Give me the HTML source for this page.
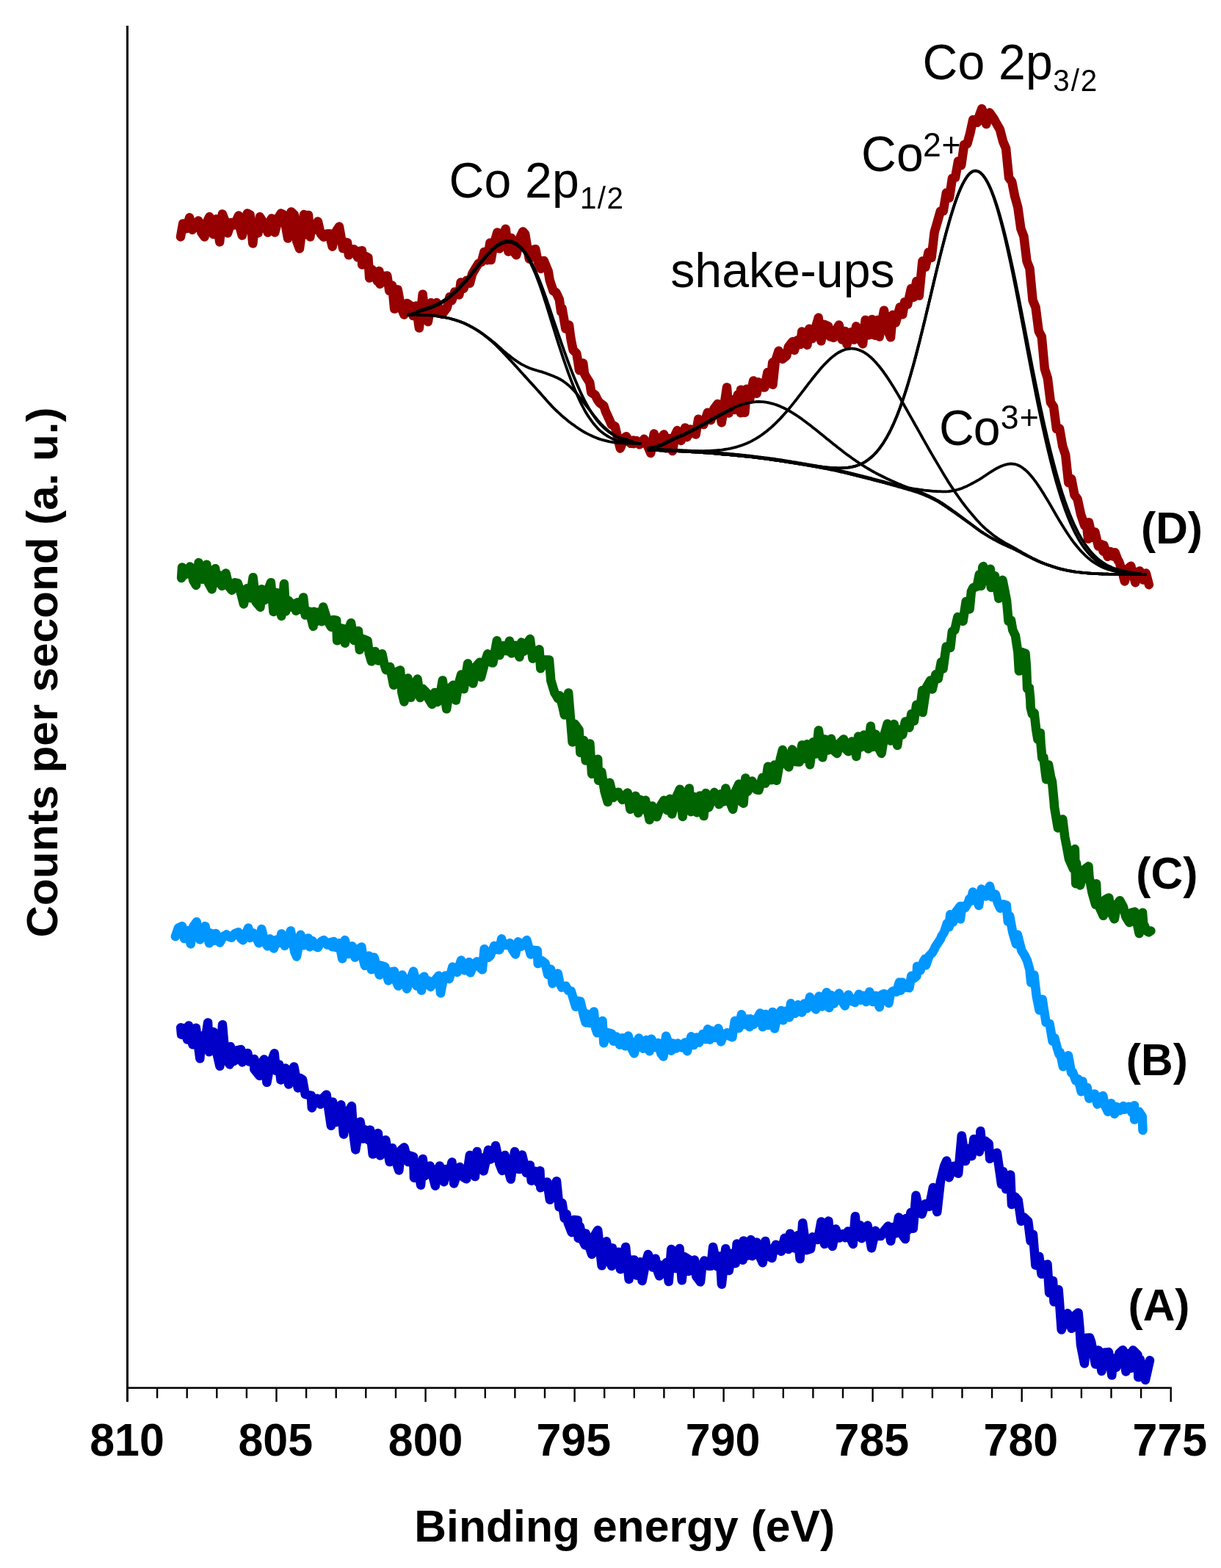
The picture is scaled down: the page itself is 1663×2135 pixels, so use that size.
<!DOCTYPE html>
<html lang="en">
<head>
<meta charset="utf-8">
<title>Co 2p XPS spectra</title>
<style>
html,body{margin:0;padding:0;background:#fff;}
body{width:1663px;height:2135px;overflow:hidden;}
svg{display:block;}
text{font-family:"Liberation Sans",Arial,Helvetica,sans-serif;fill:#000;}
.b{font-weight:bold;}
.r{font-weight:normal;}
.c{fill:none;stroke-linejoin:round;stroke-linecap:round;}
.f{fill:none;stroke:#000;stroke-width:3.8;stroke-linejoin:round;stroke-linecap:butt;}
</style>
</head>
<body>
<svg width="1663" height="2135" viewBox="0 0 1663 2135">
<rect x="0" y="0" width="1663" height="2135" fill="#fff"/>
<polyline class="c" stroke="#0000c8" stroke-width="12.5" points="246.2,1399.2 247.1,1408.8 250.2,1400.0 255.2,1415.5 257.0,1396.5 262.4,1422.3 266.9,1399.7 272.3,1441.3 274.6,1410.6 278.6,1423.1 283.1,1392.5 284.9,1432.3 290.8,1405.1 294.9,1431.9 299.4,1451.6 303.0,1395.2 307.0,1441.4 312.9,1449.4 313.8,1425.0 319.2,1444.7 323.3,1430.2 328.2,1429.1 330.0,1446.4 337.3,1434.0 339.5,1445.6 343.5,1444.7 346.3,1442.1 346.3,1455.8 353.5,1464.8 355.7,1448.0 359.8,1442.5 363.4,1473.8 367.9,1449.3 373.7,1434.3 376.0,1458.0 380.1,1449.4 382.4,1470.5 388.7,1454.4 393.2,1476.5 396.3,1460.9 400.4,1452.4 405.8,1481.4 408.5,1467.8 412.1,1470.1 415.7,1490.0 420.7,1491.3 423.8,1491.7 424.8,1508.4 428.8,1498.8 432.0,1495.7 436.5,1503.6 440.9,1494.2 444.6,1490.4 450.9,1532.8 453.1,1500.5 457.2,1528.1 461.2,1516.5 464.4,1504.3 468.0,1544.5 473.4,1515.3 478.9,1506.1 481.5,1544.8 484.3,1565.4 490.6,1527.4 494.2,1550.5 497.8,1538.5 501.8,1552.3 504.1,1538.6 507.7,1571.6 509.9,1546.2 514.9,1543.1 517.7,1573.4 522.1,1555.7 525.3,1552.3 530.7,1582.1 534.3,1563.2 538.3,1578.6 543.3,1593.5 546.4,1565.7 550.5,1562.2 555.9,1582.1 558.6,1573.6 563.1,1575.2 564.0,1603.8 566.7,1583.3 570.8,1600.5 573.1,1613.7 575.8,1578.0 578.9,1601.0 583.0,1595.2 585.7,1587.4 592.9,1614.6 595.1,1594.4 598.9,1587.4 604.6,1609.2 607.3,1592.1 611.4,1601.2 615.5,1582.4 618.2,1611.5 623.6,1596.1 626.3,1588.9 631.7,1603.2 635.3,1605.2 639.8,1573.0 643.8,1591.3 647.0,1602.0 649.7,1568.1 652.0,1589.5 656.0,1576.3 658.7,1594.4 665.1,1565.8 668.2,1578.4 673.2,1574.9 675.0,1560.0 680.4,1584.9 684.0,1593.9 687.6,1573.0 692.5,1593.9 695.7,1605.6 701.1,1568.1 704.7,1591.4 707.5,1592.1 711.1,1572.6 716.9,1597.0 721.9,1586.5 723.7,1607.8 729.1,1594.7 733.1,1610.0 735.4,1594.3 736.3,1617.3 741.2,1610.6 745.3,1609.4 748.9,1633.6 753.4,1618.7 758.0,1608.2 761.6,1643.5 765.6,1638.0 768.8,1658.8 771.6,1653.2 773.7,1665.2 778.7,1678.1 781.8,1661.1 786.8,1661.4 787.7,1685.9 789.9,1670.3 794.0,1689.4 796.8,1695.4 797.7,1679.4 802.1,1695.9 806.1,1707.9 810.2,1681.6 814.2,1675.0 819.6,1723.3 822.4,1695.6 825.9,1690.3 830.5,1718.3 833.1,1723.8 834.0,1699.3 838.6,1720.6 842.7,1704.7 844.9,1728.3 852.1,1697.9 856.6,1741.8 858.9,1716.0 863.8,1715.5 867.0,1736.5 871.9,1718.3 874.6,1744.0 879.2,1720.3 882.7,1708.0 889.1,1725.6 892.7,1713.7 895.4,1729.8 898.1,1737.3 899.9,1722.8 903.6,1734.1 907.6,1719.1 910.7,1745.1 914.3,1701.1 919.8,1727.1 925.5,1699.9 928.7,1743.3 932.0,1711.2 937.8,1714.6 937.8,1731.0 940.1,1720.5 945.9,1715.5 948.2,1737.7 954.0,1745.4 956.3,1723.4 959.4,1716.4 964.4,1723.8 968.4,1723.8 971.1,1697.9 976.6,1724.2 980.7,1710.6 982.9,1748.7 988.3,1700.2 992.8,1730.0 996.9,1706.7 1001.8,1720.2 1003.6,1693.4 1009.1,1710.7 1011.7,1715.7 1012.6,1689.4 1017.2,1709.9 1022.6,1688.1 1024.4,1710.3 1030.7,1691.6 1033.4,1707.7 1038.8,1719.3 1042.4,1689.9 1045.6,1709.8 1051.4,1713.0 1053.7,1700.5 1056.8,1694.8 1061.8,1702.2 1064.0,1703.9 1068.6,1685.8 1074.0,1701.0 1076.1,1679.7 1082.1,1699.5 1086.2,1682.2 1089.6,1714.1 1093.2,1665.3 1098.3,1702.2 1104.0,1700.6 1106.7,1684.3 1110.5,1686.5 1114.0,1688.0 1118.5,1663.5 1123.0,1693.9 1128.4,1662.6 1130.8,1691.1 1133.8,1697.0 1138.3,1673.4 1143.0,1685.6 1146.4,1683.5 1148.2,1680.1 1151.1,1685.2 1155.1,1676.4 1159.2,1687.8 1161.8,1693.9 1164.8,1656.3 1167.3,1682.4 1171.4,1668.2 1173.5,1686.2 1179.5,1672.7 1181.6,1668.6 1187.0,1699.4 1192.4,1675.8 1195.7,1682.9 1199.7,1683.1 1203.8,1676.5 1209.6,1669.5 1213.2,1689.8 1216.0,1671.0 1220.1,1679.3 1224.0,1657.6 1228.2,1680.4 1233.0,1687.1 1233.9,1659.0 1236.3,1675.3 1240.4,1651.0 1243.8,1672.7 1247.5,1627.8 1252.5,1650.6 1255.6,1653.2 1260.1,1639.2 1265.5,1642.9 1268.8,1627.5 1270.9,1617.0 1276.3,1650.1 1280.9,1608.8 1286.1,1587.7 1289.3,1580.5 1292.6,1603.2 1298.9,1587.7 1301.2,1595.0 1305.2,1597.8 1309.8,1546.4 1315.1,1580.9 1317.5,1564.5 1319.6,1563.7 1323.4,1574.2 1326.4,1551.0 1329.6,1561.4 1333.9,1568.2 1335.4,1540.1 1337.8,1561.9 1341.8,1553.5 1346.7,1557.3 1348.2,1577.8 1354.0,1572.3 1357.9,1569.7 1364.0,1612.4 1366.2,1595.2 1370.2,1619.1 1376.2,1599.6 1378.0,1640.1 1382.4,1629.5 1386.7,1634.2 1390.8,1662.7 1394.6,1657.6 1400.2,1662.8 1403.6,1689.7 1407.0,1680.8 1410.4,1722.8 1415.3,1710.9 1418.6,1734.8 1423.0,1722.9 1426.5,1721.4 1429.1,1760.4 1434.1,1744.0 1435.5,1772.5 1439.2,1764.2 1441.6,1756.0 1442.9,1772.0 1445.7,1810.6 1451.4,1793.5 1454.1,1788.2 1459.5,1808.8 1463.6,1791.5 1468.6,1787.4 1470.6,1809.3 1472.0,1831.1 1477.0,1856.6 1479.8,1821.7 1484.2,1821.4 1486.2,1827.3 1492.0,1857.5 1496.0,1838.6 1500.4,1866.9 1504.1,1841.8 1510.0,1841.1 1514.3,1872.6 1516.3,1849.4 1520.4,1861.7 1524.4,1842.7 1529.3,1838.2 1533.5,1867.5 1536.6,1842.9 1540.7,1863.0 1543.1,1838.5 1549.6,1845.0 1550.3,1875.3 1552.8,1850.9 1556.9,1868.4 1560.0,1878.9 1566.0,1852.3"/>
<polyline class="c" stroke="#0096ff" stroke-width="12.5" points="238.9,1275.1 243.0,1263.4 248.0,1261.1 251.1,1278.0 255.2,1266.9 259.7,1285.2 263.3,1261.4 267.8,1255.3 272.3,1279.3 275.5,1264.4 279.5,1261.1 284.9,1284.2 287.6,1270.8 291.7,1280.9 294.0,1271.0 299.4,1283.4 303.9,1275.2 308.4,1272.5 312.0,1275.7 315.6,1276.6 320.1,1271.0 324.6,1269.2 328.2,1277.8 330.9,1280.2 338.2,1263.5 340.4,1277.0 344.4,1270.2 348.5,1275.8 352.6,1284.2 356.2,1265.1 360.7,1282.5 364.3,1288.3 367.9,1278.3 373.0,1291.4 376.9,1279.4 381.0,1283.8 383.3,1271.4 387.8,1287.8 393.1,1277.6 395.9,1267.4 401.3,1296.0 404.0,1302.4 409.4,1272.8 413.4,1287.3 417.5,1278.0 420.2,1277.4 422.0,1289.2 425.6,1281.1 429.7,1288.5 432.9,1290.1 437.8,1281.8 441.0,1280.1 445.9,1286.6 450.0,1283.1 452.7,1289.2 454.5,1281.9 458.1,1290.1 462.1,1284.2 466.2,1305.4 469.8,1280.1 474.3,1299.0 479.8,1288.2 483.4,1303.6 486.5,1293.2 492.4,1289.4 494.6,1305.8 496.9,1314.8 502.7,1301.4 505.9,1320.2 509.5,1303.5 516.8,1327.4 518.9,1314.6 524.4,1316.5 528.9,1335.2 531.1,1323.7 537.0,1322.5 539.2,1335.4 542.4,1342.5 547.8,1327.4 551.4,1337.9 554.1,1346.4 559.5,1331.8 563.1,1322.5 567.6,1342.5 571.7,1333.1 574.0,1348.6 577.6,1329.7 579.8,1340.6 583.9,1335.5 586.6,1343.7 592.0,1335.4 597.4,1328.6 600.1,1352.2 604.2,1330.9 606.4,1328.6 611.8,1332.9 616.4,1316.5 620.4,1322.1 622.7,1323.9 628.1,1307.5 632.6,1321.3 636.6,1314.0 638.9,1309.9 640.7,1324.4 644.7,1314.8 649.7,1309.3 652.9,1316.6 656.9,1320.3 659.7,1292.2 665.0,1303.7 667.8,1301.3 673.2,1287.7 677.2,1293.0 680.4,1293.2 683.1,1278.3 685.3,1286.5 689.4,1286.9 694.8,1284.1 697.5,1292.4 702.0,1299.5 705.7,1282.3 709.7,1288.7 712.0,1286.9 717.4,1280.1 722.8,1299.5 725.9,1293.8 731.8,1294.3 732.7,1312.1 738.1,1308.2 742.6,1311.7 746.2,1327.0 750.2,1319.8 752.6,1339.2 759.8,1325.5 762.4,1338.7 765.2,1344.6 770.5,1342.4 774.2,1349.1 777.8,1349.5 784.1,1370.8 786.8,1362.9 790.4,1363.4 794.9,1382.4 797.7,1392.4 799.5,1380.6 803.0,1393.0 808.8,1377.4 811.1,1399.8 813.3,1406.3 820.5,1390.0 822.3,1420.2 827.4,1405.9 833.1,1407.5 835.5,1417.7 839.5,1411.5 844.0,1422.6 847.6,1413.2 851.7,1424.3 855.7,1410.4 859.8,1426.9 863.8,1434.3 867.9,1417.5 870.1,1413.4 876.0,1427.8 880.1,1416.1 884.6,1431.2 887.3,1414.7 892.3,1426.3 896.3,1420.0 900.4,1434.6 903.5,1438.5 907.1,1410.7 914.3,1430.7 916.6,1420.5 920.7,1427.5 923.3,1420.6 928.8,1426.4 932.9,1419.6 936.0,1431.2 941.4,1411.3 945.0,1423.1 949.1,1412.5 952.2,1419.5 957.2,1407.9 961.3,1415.1 963.9,1401.3 966.6,1415.7 969.4,1403.5 973.4,1412.9 978.4,1400.3 982.0,1418.4 985.6,1409.0 990.1,1406.2 993.7,1410.8 997.3,1412.3 1000.9,1390.0 1006.3,1400.0 1009.9,1381.3 1014.0,1394.9 1018.1,1387.6 1020.8,1398.2 1022.6,1387.3 1026.2,1395.1 1030.3,1388.6 1035.2,1379.5 1038.8,1398.2 1042.4,1380.9 1046.5,1395.9 1052.3,1377.9 1055.0,1400.6 1058.7,1384.1 1064.0,1375.9 1066.8,1389.2 1070.8,1376.5 1075.2,1385.2 1077.0,1366.3 1083.0,1379.8 1086.9,1368.1 1092.3,1378.5 1095.2,1366.6 1099.2,1373.1 1103.1,1357.6 1107.4,1370.1 1111.3,1374.4 1115.5,1356.5 1119.5,1370.5 1123.6,1357.6 1125.7,1351.3 1129.3,1372.2 1131.7,1355.0 1135.8,1366.6 1139.8,1356.9 1142.8,1352.6 1147.9,1365.0 1150.9,1369.5 1155.5,1354.4 1160.1,1362.8 1164.5,1365.0 1169.9,1353.7 1172.3,1361.8 1176.3,1355.7 1179.8,1364.1 1184.3,1350.4 1188.5,1364.0 1192.6,1355.7 1197.8,1371.3 1200.7,1354.5 1204.2,1353.1 1210.5,1365.9 1212.9,1352.6 1215.9,1349.5 1221.0,1350.6 1224.9,1337.4 1226.7,1348.7 1229.1,1337.6 1233.2,1344.4 1238.4,1345.1 1241.3,1328.8 1245.3,1331.7 1248.5,1329.0 1249.1,1315.7 1253.4,1321.4 1257.5,1309.7 1259.9,1305.6 1261.1,1314.2 1265.6,1301.4 1269.7,1297.3 1272.8,1292.0 1273.5,1289.9 1277.8,1283.3 1281.0,1278.5 1282.5,1274.6 1285.9,1269.4 1290.0,1257.0 1292.7,1262.2 1294.2,1245.3 1298.1,1255.6 1302.1,1241.6 1307.8,1234.0 1308.0,1251.4 1310.3,1233.9 1314.3,1236.2 1318.8,1228.8 1320.4,1223.7 1322.4,1226.8 1325.0,1214.6 1330.5,1224.8 1333.1,1232.9 1336.8,1210.6 1342.7,1220.3 1348.1,1206.5 1351.1,1221.3 1355.8,1217.7 1358.9,1229.4 1362.3,1236.7 1367.1,1231.4 1370.8,1232.7 1372.8,1254.8 1375.2,1247.4 1379.2,1269.2 1384.0,1285.4 1385.9,1272.7 1391.4,1294.4 1395.5,1300.7 1399.0,1308.0 1402.4,1320.1 1404.3,1338.0 1408.4,1327.6 1411.7,1356.2 1415.6,1375.6 1419.7,1360.7 1424.6,1392.1 1429.5,1393.8 1433.6,1417.7 1436.3,1413.3 1440.1,1427.8 1442.6,1435.7 1443.8,1432.8 1447.9,1452.3 1452.3,1440.3 1455.0,1437.2 1459.2,1460.7 1461.1,1459.9 1465.2,1471.3 1468.5,1469.4 1472.7,1486.3 1474.5,1472.5 1476.6,1484.5 1480.7,1480.8 1483.4,1495.7 1488.8,1491.7 1490.9,1489.4 1494.6,1503.5 1496.9,1494.5 1502.2,1492.1 1505.0,1505.4 1509.0,1513.7 1513.5,1502.2 1518.0,1516.7 1521.3,1507.1 1525.3,1512.2 1530.0,1505.9 1531.8,1510.7 1537.5,1506.7 1541.6,1514.7 1545.0,1505.2 1545.1,1524.5 1551.1,1513.4 1555.7,1520.0 1556.5,1538.9"/>
<polyline class="c" stroke="#006400" stroke-width="12.5" points="247.1,787.0 248.0,772.4 251.2,782.9 255.3,778.6 258.9,771.5 263.4,790.7 267.0,796.9 270.6,766.1 275.5,788.8 281.4,768.8 283.7,793.2 288.6,802.3 293.1,774.2 295.8,793.4 299.9,783.5 302.2,797.8 307.6,780.5 312.1,799.2 315.7,803.7 320.2,793.3 323.8,794.1 328.3,808.2 331.9,822.5 336.4,801.3 340.5,814.3 344.6,786.3 348.6,819.8 354.5,826.7 356.3,802.2 360.8,816.9 364.8,804.1 368.9,793.2 372.5,833.0 377.0,807.1 381.1,823.2 383.3,838.7 386.9,795.0 389.2,832.3 393.2,817.8 397.3,826.7 400.5,822.0 403.2,831.7 405.4,820.2 409.5,830.1 413.1,813.4 415.8,837.5 421.6,832.8 426.6,852.8 427.5,832.8 429.7,846.9 433.8,833.6 437.9,846.2 440.2,826.5 446.0,845.2 451.0,853.7 454.1,843.9 458.2,844.6 459.1,872.3 462.2,854.9 468.1,856.3 469.9,875.7 474.4,857.8 478.0,848.2 482.5,872.1 488.0,859.0 489.8,884.7 494.7,870.1 500.6,872.5 502.8,889.8 506.0,900.6 510.9,886.9 515.0,899.5 520.4,890.2 523.1,903.6 525.9,912.3 531.2,908.0 536.1,932.8 539.3,915.4 545.1,912.5 547.4,942.9 550.5,955.4 555.5,923.5 559.6,949.7 563.7,932.8 568.6,924.6 572.2,949.9 575.8,937.7 581.2,943.5 584.0,951.9 588.4,959.0 592.1,942.9 596.1,955.9 600.2,941.5 602.8,926.4 608.2,965.3 612.4,937.5 617.3,932.7 620.9,953.6 624.5,932.0 628.1,918.6 631.7,938.2 637.1,903.5 640.8,926.9 644.3,930.6 648.9,906.9 653.3,901.7 655.1,922.0 661.1,899.4 664.2,890.3 669.2,902.2 671.4,902.5 676.8,872.3 680.4,892.2 685.4,879.2 689.5,886.2 693.9,872.8 696.6,889.5 701.6,878.7 707.5,894.6 710.2,874.6 713.8,886.7 717.9,875.8 721.9,870.1 725.5,896.7 730.0,887.1 734.5,884.3 736.3,910.3 742.2,898.6 748.0,898.4 750.3,926.6 755.4,943.4 756.9,945.5 759.8,950.9 762.5,947.2 766.6,963.2 768.8,973.4 774.2,943.5 779.6,1010.4 782.8,985.8 788.6,993.7 790.4,1024.8 795.0,1008.1 797.7,1035.6 803.4,1012.6 806.1,1053.7 811.2,1035.1 814.2,1033.7 815.1,1062.7 819.3,1051.1 823.4,1077.0 827.7,1092.1 830.4,1065.7 835.5,1086.1 839.6,1079.1 842.2,1078.8 847.6,1088.9 851.8,1082.9 854.8,1079.4 858.4,1101.9 865.6,1083.7 869.2,1106.9 872.1,1089.0 876.1,1102.3 879.1,1089.7 884.6,1116.3 888.3,1097.5 892.4,1110.7 894.5,1112.3 900.5,1095.6 904.4,1089.7 908.6,1103.2 912.6,1087.7 915.2,1108.4 920.8,1086.2 926.0,1074.7 929.7,1112.0 932.9,1088.9 938.7,1073.4 941.1,1105.3 945.1,1084.8 949.2,1106.4 953.2,1083.4 958.5,1111.1 961.2,1080.1 965.4,1099.4 969.5,1088.3 972.9,1078.8 979.3,1095.2 981.6,1081.3 985.7,1091.4 988.3,1073.4 993.8,1091.2 998.2,1101.9 1001.9,1077.1 1006.3,1067.5 1010.0,1091.9 1012.6,1093.9 1015.3,1059.5 1018.2,1077.8 1022.2,1070.3 1024.4,1063.5 1030.3,1075.3 1033.4,1075.7 1038.4,1058.8 1042.5,1066.6 1046.0,1043.7 1050.6,1062.1 1054.7,1041.6 1057.7,1062.7 1062.8,1033.3 1065.9,1021.1 1070.9,1040.5 1074.3,1044.5 1079.0,1020.6 1083.1,1037.0 1088.7,1037.6 1092.3,1014.4 1095.3,1033.0 1099.3,1013.3 1103.1,1041.2 1107.4,1010.5 1111.5,1026.5 1114.9,994.5 1120.3,1031.3 1123.7,1006.6 1127.7,1021.5 1132.0,1005.9 1135.8,1022.0 1140.1,1025.9 1144.0,1011.7 1149.1,1006.4 1152.1,1019.9 1155.5,1023.2 1160.2,1009.6 1164.2,1018.9 1166.3,1030.0 1169.0,1002.8 1172.4,1017.5 1176.4,1000.7 1180.5,1014.7 1182.5,1019.6 1185.8,988.8 1188.6,1017.0 1192.7,999.8 1196.7,1018.5 1200.6,1025.9 1204.8,999.1 1208.7,985.5 1212.9,1008.7 1217.7,986.1 1222.2,1015.0 1225.1,993.6 1229.2,1000.4 1233.0,982.4 1238.4,990.7 1241.3,972.1 1244.9,981.7 1248.2,959.8 1253.5,962.7 1256.3,940.0 1256.6,970.0 1261.6,936.1 1267.2,926.5 1269.8,938.4 1274.4,918.2 1277.8,924.1 1281.9,901.4 1284.5,910.6 1288.7,880.6 1294.3,882.0 1296.9,859.6 1300.3,858.0 1304.4,840.0 1311.6,845.9 1315.7,819.0 1318.4,826.2 1320.6,829.4 1322.9,805.3 1325.5,800.2 1330.6,798.5 1333.8,782.2 1336.4,797.8 1338.3,772.2 1339.2,771.1 1342.8,791.0 1346.9,777.1 1349.0,774.8 1349.7,799.9 1355.0,784.1 1360.1,812.9 1360.3,814.9 1363.1,796.4 1365.5,789.8 1371.0,817.5 1373.6,845.9 1377.0,844.5 1379.3,857.9 1383.0,865.6 1384.1,873.0 1386.4,888.0 1387.9,913.6 1391.5,888.0 1396.5,889.6 1398.0,907.7 1399.1,937.6 1401.8,936.2 1403.3,952.8 1403.7,963.2 1405.9,972.2 1408.6,970.8 1411.2,993.2 1413.4,1006.8 1416.8,997.9 1417.6,1012.9 1419.4,1032.3 1421.3,1030.9 1424.0,1053.4 1425.1,1061.3 1428.1,1041.5 1431.1,1058.0 1433.0,1064.4 1435.7,1092.9 1436.1,1099.0 1440.9,1127.4 1444.2,1118.4 1447.3,1115.5 1450.3,1139.6 1452.9,1153.0 1455.9,1169.5 1462.0,1183.1 1463.9,1156.1 1465.2,1203.2 1466.1,1175.6 1468.6,1197.0 1471.2,1205.4 1476.7,1184.2 1482.5,1179.6 1483.4,1193.7 1487.6,1215.6 1492.2,1231.7 1493.1,1203.3 1493.9,1222.3 1497.0,1234.4 1502.7,1246.8 1505.1,1225.1 1510.3,1222.4 1513.2,1242.3 1517.8,1251.3 1521.3,1231.3 1525.3,1226.2 1529.9,1234.8 1533.5,1248.6 1538.1,1256.1 1541.6,1242.5 1545.6,1241.5 1551.6,1271.1 1553.8,1252.9 1556.1,1242.7 1557.1,1256.8 1561.9,1267.7 1564.4,1269.3 1567.4,1267.5"/>
<polyline class="c" stroke="#960000" stroke-width="12.5" points="246.0,322.5 249.2,304.4 254.1,311.3 258.1,296.3 261.9,312.9 266.3,304.9 270.3,300.5 274.4,316.6 278.5,322.5 282.5,301.0 285.3,295.1 290.6,319.1 294.7,298.3 299.2,329.4 302.8,291.4 307.0,302.0 310.0,317.4 314.9,302.9 319.0,306.5 325.0,293.5 327.2,311.0 329.8,320.5 336.8,290.5 340.6,292.3 344.3,331.5 347.4,303.7 351.5,317.2 353.9,295.3 361.1,306.5 364.7,316.5 367.7,301.5 370.1,297.4 374.3,316.5 379.9,295.0 382.7,290.5 386.3,292.3 392.1,324.6 396.6,288.4 400.8,292.3 404.3,328.8 408.0,338.5 414.0,292.1 416.4,319.2 420.0,292.9 422.4,322.5 424.5,304.7 428.6,313.0 432.9,301.5 436.7,318.1 440.7,322.7 444.8,318.5 448.5,318.3 452.7,335.7 457.0,316.2 462.0,308.5 467.1,338.3 469.2,329.6 473.1,330.4 474.9,347.3 477.3,339.5 482.2,339.4 487.0,350.3 489.5,342.1 493.0,341.2 493.2,360.6 497.6,348.8 501.4,350.8 503.2,378.6 505.7,366.3 508.6,368.6 513.8,382.7 516.4,369.1 517.6,386.7 521.9,376.1 527.3,375.5 530.3,396.0 534.1,388.6 537.2,420.6 541.7,394.3 546.3,419.0 550.4,428.4 554.4,413.0 558.3,415.7 562.5,430.1 566.6,416.4 570.9,446.5 575.7,400.7 578.8,431.3 582.9,438.1 586.9,412.2 590.9,425.8 594.9,412.1 599.0,423.1 602.2,427.8 608.6,419.5 612.5,404.2 615.3,409.3 619.3,397.6 623.4,398.2 625.4,401.5 627.6,384.4 631.5,392.9 635.6,381.7 639.9,385.8 643.2,372.9 648.3,364.2 651.8,358.6 655.9,356.7 659.5,342.9 664.0,354.2 667.3,330.8 668.7,354.0 672.1,334.5 677.3,316.5 680.2,338.5 684.3,321.0 688.7,311.7 692.4,342.5 696.4,324.0 700.5,343.7 703.2,347.3 708.6,322.8 712.2,315.3 715.1,318.4 720.8,352.5 724.8,340.7 729.3,339.2 733.0,357.7 736.7,365.9 740.7,354.9 746.7,369.3 748.7,381.5 753.5,395.9 757.3,398.3 761.8,407.8 764.2,424.6 765.6,420.0 770.4,447.6 775.0,442.6 777.4,460.7 778.8,468.1 780.6,476.5 785.2,481.1 787.2,492.1 789.0,504.2 794.2,494.4 796.0,508.8 798.0,512.6 803.2,520.8 805.3,534.2 810.5,537.7 814.1,544.8 816.7,548.4 822.4,552.6 824.8,560.1 829.6,570.7 832.9,578.1 837.7,580.6 842.5,601.5 844.8,610.5 850.6,596.3 852.9,594.2 858.8,603.8 862.8,599.6 862.8,604.2 866.9,599.9 870.9,605.3 875.0,602.4 877.3,597.8 883.1,609.5 886.3,616.9 890.8,590.6 895.3,607.3 899.3,597.6 904.3,591.5 907.4,610.3 911.5,596.9 916.0,614.1 919.6,592.1 922.4,586.1 927.7,600.0 933.2,582.4 935.9,595.2 939.9,584.4 944.0,589.6 947.6,591.6 951.2,570.7 956.1,577.1 958.4,578.1 963.8,561.7 968.3,572.1 972.4,556.7 977.4,550.0 980.5,563.5 982.8,575.4 990.0,527.4 992.7,562.4 996.7,544.3 1000.8,558.1 1004.8,537.4 1008.9,562.2 1008.9,530.7 1014.4,561.8 1017.0,529.8 1021.1,543.8 1026.1,518.4 1030.6,535.7 1033.2,520.3 1037.3,526.8 1041.4,527.6 1045.4,506.9 1049.5,520.8 1052.2,493.5 1052.5,523.8 1055.9,492.1 1060.6,477.7 1065.7,488.9 1071.4,484.1 1073.8,472.4 1079.5,465.1 1081.9,476.9 1086.0,463.2 1090.1,469.1 1092.2,451.5 1099.4,469.7 1102.2,447.8 1106.3,461.1 1110.3,448.0 1114.7,432.6 1118.3,464.3 1122.5,441.8 1128.2,444.3 1130.6,458.3 1135.5,459.8 1138.8,449.4 1142.7,442.5 1146.9,462.5 1150.9,451.0 1153.5,468.8 1159.0,452.3 1163.1,462.6 1166.1,444.3 1171.2,462.0 1175.1,468.3 1178.7,435.7 1183.4,456.2 1187.5,434.9 1191.5,456.7 1195.6,435.8 1197.7,458.5 1204.0,422.7 1207.7,446.4 1213.0,459.3 1215.9,428.7 1219.9,439.3 1225.7,418.2 1229.3,428.2 1232.1,411.2 1236.1,414.6 1241.0,392.9 1244.3,404.7 1248.3,382.9 1251.8,402.6 1256.4,355.6 1260.5,363.7 1264.6,343.5 1268.6,350.9 1272.7,315.9 1276.7,302.2 1280.8,287.8 1284.8,287.3 1288.9,262.5 1293.0,269.4 1297.0,242.8 1301.1,241.8 1305.1,219.4 1309.2,225.1 1313.2,197.0 1317.3,195.9 1321.4,181.0 1325.2,163.1 1331.2,166.8 1333.5,158.4 1337.3,148.0 1343.3,169.1 1345.7,159.1 1347.8,153.3 1353.8,161.8 1356.0,166.1 1361.9,176.4 1366.0,192.3 1370.1,202.2 1374.1,242.1 1378.2,247.6 1382.2,267.4 1386.3,282.2 1390.4,311.4 1394.4,321.8 1398.5,355.5 1402.5,365.8 1406.6,408.8 1410.6,418.7 1414.7,450.8 1418.8,458.7 1422.8,502.0 1426.9,515.2 1430.9,547.7 1435.0,553.7 1439.0,584.1 1443.1,583.6 1447.2,607.3 1451.2,619.4 1455.3,657.3 1459.3,652.1 1463.4,673.8 1467.5,679.4 1472.1,700.4 1477.3,715.7 1479.6,712.2 1482.1,733.7 1483.0,711.2 1487.7,731.8 1491.4,724.4 1495.9,743.6 1499.9,741.0 1502.5,750.6 1503.4,742.5 1508.6,757.8 1512.1,750.9 1516.1,757.5 1518.6,752.2 1523.0,763.8 1523.9,764.1 1528.3,777.4 1531.8,791.4 1536.4,774.2 1540.3,770.8 1546.3,793.2 1548.6,780.0 1552.3,777.4 1557.1,789.6 1560.7,780.4 1564.9,796.2"/>
<polyline class="f" points="554.1,428.6 556.1,428.6 558.1,428.6 560.1,428.6 562.1,428.7 564.1,428.7 566.1,428.7 568.1,428.8 570.1,428.8 572.1,428.8 574.1,428.9 576.1,429.0 578.1,429.0 580.1,429.1 582.1,429.2 584.1,429.2 586.1,429.4 588.1,429.5 590.1,429.7 592.1,430.0 594.1,430.2 596.1,430.5 598.1,430.8 600.1,431.2 602.1,431.5 604.1,431.8 606.1,432.2 608.1,432.6 610.1,433.0 612.1,433.5 614.1,434.0 616.1,434.6 618.1,435.1 620.1,435.7 622.1,436.4 624.1,437.0 626.1,437.7 628.1,438.4 630.1,439.2 632.1,440.1 634.1,441.0 636.1,442.0 638.1,443.0 640.1,444.0 642.1,445.1 644.1,446.2 646.1,447.4 648.1,448.6 650.1,449.8 652.1,451.1 654.1,452.5 656.1,453.9 658.1,455.3 660.1,456.9 662.1,458.4 664.1,460.0 666.1,461.7 668.1,463.4 670.1,465.1 672.1,466.8 674.1,468.7 676.1,470.6 678.1,472.6 680.1,474.6 682.1,476.7 684.1,478.8 686.1,480.9 688.1,483.0 690.1,485.1 692.1,487.2 694.1,489.4 696.1,491.5 698.1,493.7 700.1,495.9 702.1,498.1 704.1,500.3 706.1,502.5 708.1,504.8 710.1,507.0 712.1,509.2 714.1,511.4 716.1,513.6 718.1,515.8 720.1,518.0 722.1,520.2 724.1,522.4 726.1,524.6 728.1,526.8 730.1,529.0 732.1,531.2 734.1,533.4 736.1,535.6 738.1,537.9 740.1,540.2 742.1,542.4 744.1,544.7 746.1,547.0 748.1,549.2 750.1,551.4 752.1,553.6 754.1,555.6 756.1,557.6 758.1,559.5 760.1,561.4 762.1,563.2 764.1,565.0 766.1,566.8 768.1,568.5 770.1,570.1 772.1,571.8 774.1,573.4 776.1,574.9 778.1,576.4 780.1,577.9 782.1,579.3 784.1,580.8 786.1,582.2 788.1,583.5 790.1,584.9 792.1,586.1 794.1,587.4 796.1,588.5 798.1,589.6 800.1,590.6 802.1,591.6 804.1,592.6 806.1,593.5 808.1,594.4 810.1,595.3 812.1,596.1 814.1,596.9 816.1,597.6 818.1,598.3 820.1,598.9 822.1,599.4 824.1,599.9 826.1,600.3 828.1,600.8 830.1,601.3 832.1,601.7 834.1,602.0 836.1,602.4 838.1,602.7 840.1,602.9 842.1,603.0 844.1,603.1 846.1,603.2 848.1,603.3 850.1,603.4 852.1,603.5 854.1,603.6 856.1,603.6 858.1,603.7 860.1,603.7 862.1,603.8 864.1,603.8 866.1,603.8 868.1,603.9 870.1,603.9 873.4,603.9"/>
<polyline class="f" points="554.1,428.6 556.1,428.6 558.1,428.6 560.1,428.6 562.1,428.7 564.1,428.7 566.1,428.7 568.1,428.8 570.1,428.8 572.1,428.8 574.1,428.9 576.1,429.0 578.1,429.0 580.1,429.1 582.1,429.2 584.1,429.2 586.1,429.4 588.1,429.5 590.1,429.7 592.1,430.0 594.1,430.2 596.1,430.5 598.1,430.8 600.1,431.2 602.1,431.5 604.1,431.8 606.1,432.2 608.1,432.6 610.1,433.0 612.1,433.5 614.1,434.0 616.1,434.6 618.1,435.1 620.1,435.7 622.1,436.4 624.1,437.0 626.1,437.7 628.1,438.4 630.1,439.2 632.1,440.1 634.1,441.0 636.1,441.9 638.1,442.9 640.1,444.0 642.1,445.0 644.1,446.2 646.1,447.3 648.1,448.4 650.1,449.6 652.1,450.9 654.1,452.2 656.1,453.6 658.1,455.0 660.1,456.5 662.1,458.0 664.1,459.5 666.1,461.0 668.1,462.6 670.1,464.2 672.1,465.8 674.1,467.5 676.1,469.2 678.1,471.0 680.1,472.7 682.1,474.5 684.1,476.3 686.1,478.1 688.1,479.8 690.1,481.4 692.1,483.1 694.1,484.6 696.1,486.2 698.1,487.7 700.1,489.2 702.1,490.6 704.1,492.0 706.1,493.4 708.1,494.6 710.1,495.8 712.1,496.9 714.1,497.9 716.1,498.9 718.1,499.8 720.1,500.7 722.1,501.5 724.1,502.2 726.1,502.9 728.1,503.5 730.1,504.1 732.1,504.7 734.1,505.3 736.1,505.8 738.1,506.4 740.1,507.1 742.1,507.7 744.1,508.4 746.1,509.2 748.1,509.9 750.1,510.7 752.1,511.5 754.1,512.3 756.1,513.2 758.1,514.0 760.1,515.0 762.1,516.0 764.1,517.2 766.1,518.4 768.1,519.8 770.1,521.2 772.1,522.8 774.1,524.4 776.1,526.2 778.1,528.1 780.1,530.1 782.1,532.2 784.1,534.4 786.1,536.8 788.1,539.2 790.1,541.7 792.1,544.2 794.1,546.8 796.1,549.4 798.1,552.0 800.1,554.5 802.1,557.1 804.1,559.7 806.1,562.2 808.1,564.8 810.1,567.3 812.1,569.8 814.1,572.2 816.1,574.5 818.1,576.7 820.1,578.8 822.1,580.8 824.1,582.7 826.1,584.5 828.1,586.3 830.1,587.9 832.1,589.5 834.1,591.0 836.1,592.3 838.1,593.6 840.1,594.7 842.1,595.7 844.1,596.6 846.1,597.3 848.1,598.1 850.1,598.7 852.1,599.4 854.1,599.9 856.1,600.6 858.1,601.3 860.1,601.9 862.1,602.5 864.1,603.0 866.1,603.4 868.1,603.6 870.1,603.8 873.4,603.9"/>
<polyline class="f" points="554.1,428.6 556.1,428.5 558.1,428.4 560.1,428.0 562.1,427.6 564.1,427.0 566.1,426.3 568.1,425.5 570.1,424.7 572.1,423.9 574.1,423.3 576.1,422.8 578.1,422.2 580.1,421.6 582.1,420.9 584.1,420.2 586.1,419.4 588.1,418.7 590.1,417.9 592.1,417.0 594.1,416.1 596.1,415.2 598.1,414.2 600.1,413.1 602.1,412.0 604.1,410.7 606.1,409.4 608.1,408.0 610.1,406.5 612.1,405.0 614.1,403.4 616.1,401.8 618.1,400.0 620.1,398.2 622.1,396.3 624.1,394.3 626.1,392.3 628.1,390.2 630.1,388.0 632.1,385.8 634.1,383.5 636.1,381.2 638.1,378.9 640.1,376.5 642.1,374.1 644.1,371.6 646.1,369.1 648.1,366.6 650.1,364.1 652.1,361.6 654.1,359.1 656.1,356.6 658.1,354.2 660.1,351.9 662.1,349.6 664.1,347.3 666.1,345.1 668.1,343.1 670.1,341.0 672.1,339.2 674.1,337.5 676.1,335.9 678.1,334.5 680.1,333.3 682.1,332.3 684.1,331.4 686.1,330.8 688.1,330.3 690.1,329.9 692.1,329.8 694.1,329.8 696.1,330.1 698.1,330.7 700.1,331.5 702.1,332.5 704.1,333.7 706.1,335.3 708.1,337.0 710.1,339.0 712.1,341.2 714.1,343.8 716.1,346.6 718.1,349.8 720.1,353.3 722.1,357.0 724.1,361.1 726.1,365.4 728.1,370.0 730.1,374.9 732.1,380.0 734.1,385.3 736.1,390.9 738.1,396.6 740.1,402.6 742.1,408.8 744.1,415.0 746.1,421.4 748.1,427.9 750.1,434.4 752.1,440.9 754.1,447.3 756.1,453.7 758.1,460.1 760.1,466.4 762.1,472.6 764.1,478.7 766.1,484.8 768.1,490.7 770.1,496.5 772.1,502.2 774.1,507.8 776.1,513.2 778.1,518.4 780.1,523.5 782.1,528.4 784.1,533.2 786.1,537.8 788.1,542.3 790.1,546.6 792.1,550.6 794.1,554.5 796.1,558.2 798.1,561.7 800.1,564.9 802.1,568.0 804.1,570.9 806.1,573.7 808.1,576.3 810.1,578.8 812.1,581.1 814.1,583.3 816.1,585.3 818.1,587.1 820.1,588.8 822.1,590.3 824.1,591.7 826.1,593.0 828.1,594.2 830.1,595.4 832.1,596.4 834.1,597.4 836.1,598.2 838.1,599.0 840.1,599.6 842.1,600.1 844.1,600.6 846.1,601.0 848.1,601.3 850.1,601.7 852.1,602.0 854.1,602.2 856.1,602.5 858.1,602.8 860.1,603.1 862.1,603.3 864.1,603.5 866.1,603.7 868.1,603.8 870.1,603.9 873.4,603.9"/>
<polyline class="f" points="554.1,428.6 556.1,428.5 558.1,428.2 560.1,427.7 562.1,427.0 564.1,426.2 566.1,425.3 568.1,424.3 570.1,423.3 572.1,422.4 574.1,421.7 576.1,421.2 578.1,420.6 580.1,420.0 582.1,419.3 584.1,418.6 586.1,417.8 588.1,417.1 590.1,416.3 592.1,415.4 594.1,414.5 596.1,413.6 598.1,412.6 600.1,411.5 602.1,410.4 604.1,409.1 606.1,407.8 608.1,406.4 610.1,404.9 612.1,403.4 614.1,401.8 616.1,400.2 618.1,398.4 620.1,396.6 622.1,394.7 624.1,392.7 626.1,390.7 628.1,388.6 630.1,386.4 632.1,384.2 634.1,381.9 636.1,379.6 638.1,377.3 640.1,374.9 642.1,372.5 644.1,370.0 646.1,367.5 648.1,365.0 650.1,362.5 652.1,360.0 654.1,357.5 656.1,355.0 658.1,352.6 660.1,350.3 662.1,348.0 664.1,345.7 666.1,343.5 668.1,341.5 670.1,339.4 672.1,337.6 674.1,335.9 676.1,334.3 678.1,332.9 680.1,331.7 682.1,330.7 684.1,329.8 686.1,329.2 688.1,328.7 690.1,328.3 692.1,328.2 694.1,328.2 696.1,328.5 698.1,329.1 700.1,329.9 702.1,330.9 704.1,332.1 706.1,333.7 708.1,335.4 710.1,337.4 712.1,339.6 714.1,342.1 716.1,344.8 718.1,347.8 720.1,351.1 722.1,354.5 724.1,358.3 726.1,362.2 728.1,366.4 730.1,370.8 732.1,375.4 734.1,380.2 736.1,385.2 738.1,390.4 740.1,395.8 742.1,401.3 744.1,407.0 746.1,412.8 748.1,418.7 750.1,424.6 752.1,430.5 754.1,436.5 756.1,442.4 758.1,448.2 760.1,454.1 762.1,459.9 764.1,465.7 766.1,471.4 768.1,477.1 770.1,482.7 772.1,488.2 774.1,493.6 776.1,498.9 778.1,504.1 780.1,509.2 782.1,514.2 784.1,519.0 786.1,523.7 788.1,528.3 790.1,532.8 792.1,537.1 794.1,541.2 796.1,545.2 798.1,548.9 800.1,552.5 802.1,556.0 804.1,559.3 806.1,562.4 808.1,565.4 810.1,568.3 812.1,571.0 814.1,573.5 816.1,575.9 818.1,578.2 820.1,580.2 822.1,582.1 824.1,583.9 826.1,585.6 828.1,587.2 830.1,588.7 832.1,590.0 834.1,591.3 836.1,592.5 838.1,593.5 840.1,594.5 842.1,595.3 844.1,596.0 846.1,596.6 848.1,597.2 850.1,597.7 852.1,598.2 854.1,598.7 856.1,599.3 858.1,600.0 860.1,600.8 862.1,601.6 864.1,602.3 866.1,602.9 868.1,603.3 870.1,603.7 873.4,603.9"/>
<polyline class="f" points="881.0,612.8 883.0,612.8 885.0,612.9 887.0,612.9 889.0,613.0 891.0,613.0 893.0,613.1 895.0,613.1 897.0,613.2 899.0,613.3 901.0,613.3 903.0,613.4 905.0,613.5 907.0,613.6 909.0,613.6 911.0,613.7 913.0,613.8 915.0,613.9 917.0,614.0 919.0,614.1 921.0,614.2 923.0,614.2 925.0,614.3 927.0,614.4 929.0,614.5 931.0,614.6 933.0,614.7 935.0,614.8 937.0,614.9 939.0,615.0 941.0,615.1 943.0,615.3 945.0,615.4 947.0,615.5 949.0,615.6 951.0,615.7 953.0,615.9 955.0,616.0 957.0,616.1 959.0,616.3 961.0,616.4 963.0,616.6 965.0,616.8 967.0,616.9 969.0,617.1 971.0,617.2 973.0,617.4 975.0,617.6 977.0,617.8 979.0,617.9 981.0,618.1 983.0,618.3 985.0,618.5 987.0,618.6 989.0,618.8 991.0,619.0 993.0,619.2 995.0,619.4 997.0,619.5 999.0,619.7 1001.0,619.9 1003.0,620.1 1005.0,620.3 1007.0,620.5 1009.0,620.7 1011.0,620.9 1013.0,621.1 1015.0,621.3 1017.0,621.6 1019.0,621.8 1021.0,622.0 1023.0,622.2 1025.0,622.4 1027.0,622.7 1029.0,622.9 1031.0,623.1 1033.0,623.4 1035.0,623.6 1037.0,623.9 1039.0,624.1 1041.0,624.4 1043.0,624.6 1045.0,624.9 1047.0,625.2 1049.0,625.5 1051.0,625.7 1053.0,626.0 1055.0,626.3 1057.0,626.6 1059.0,626.9 1061.0,627.2 1063.0,627.5 1065.0,627.8 1067.0,628.1 1069.0,628.4 1071.0,628.8 1073.0,629.1 1075.0,629.4 1077.0,629.7 1079.0,630.1 1081.0,630.4 1083.0,630.7 1085.0,631.0 1087.0,631.4 1089.0,631.7 1091.0,632.0 1093.0,632.4 1095.0,632.7 1097.0,633.0 1099.0,633.4 1101.0,633.7 1103.0,634.1 1105.0,634.4 1107.0,634.8 1109.0,635.1 1111.0,635.5 1113.0,635.8 1115.0,636.2 1117.0,636.6 1119.0,636.9 1121.0,637.3 1123.0,637.7 1125.0,638.1 1127.0,638.5 1129.0,638.9 1131.0,639.3 1133.0,639.7 1135.0,640.1 1137.0,640.5 1139.0,640.9 1141.0,641.4 1143.0,641.8 1145.0,642.3 1147.0,642.7 1149.0,643.2 1151.0,643.7 1153.0,644.1 1155.0,644.6 1157.0,645.1 1159.0,645.6 1161.0,646.1 1163.0,646.6 1165.0,647.1 1167.0,647.6 1169.0,648.1 1171.0,648.6 1173.0,649.1 1175.0,649.6 1177.0,650.2 1179.0,650.7 1181.0,651.2 1183.0,651.7 1185.0,652.2 1187.0,652.7 1189.0,653.3 1191.0,653.8 1193.0,654.3 1195.0,654.8 1197.0,655.4 1199.0,655.9 1201.0,656.5 1203.0,657.0 1205.0,657.5 1207.0,658.1 1209.0,658.6 1211.0,659.2 1213.0,659.8 1215.0,660.3 1217.0,660.9 1219.0,661.5 1221.0,662.0 1223.0,662.6 1225.0,663.2 1227.0,663.7 1229.0,664.3 1231.0,664.9 1233.0,665.5 1235.0,666.0 1237.0,666.6 1239.0,667.2 1241.0,667.8 1243.0,668.4 1245.0,669.0 1247.0,669.6 1249.0,670.3 1251.0,670.9 1253.0,671.7 1255.0,672.4 1257.0,673.2 1259.0,674.0 1261.0,674.9 1263.0,675.7 1265.0,676.6 1267.0,677.6 1269.0,678.5 1271.0,679.5 1273.0,680.5 1275.0,681.6 1277.0,682.7 1279.0,683.8 1281.0,685.1 1283.0,686.3 1285.0,687.6 1287.0,689.0 1289.0,690.3 1291.0,691.7 1293.0,693.1 1295.0,694.4 1297.0,695.8 1299.0,697.2 1301.0,698.5 1303.0,699.9 1305.0,701.4 1307.0,702.8 1309.0,704.2 1311.0,705.7 1313.0,707.1 1315.0,708.5 1317.0,710.0 1319.0,711.4 1321.0,712.8 1323.0,714.3 1325.0,715.8 1327.0,717.2 1329.0,718.7 1331.0,720.2 1333.0,721.6 1335.0,723.0 1337.0,724.4 1339.0,725.7 1341.0,727.0 1343.0,728.2 1345.0,729.4 1347.0,730.6 1349.0,731.8 1351.0,732.9 1353.0,734.0 1355.0,735.1 1357.0,736.2 1359.0,737.2 1361.0,738.2 1363.0,739.2 1365.0,740.2 1367.0,741.2 1369.0,742.1 1371.0,743.0 1373.0,743.9 1375.0,744.8 1377.0,745.7 1379.0,746.6 1381.0,747.5 1383.0,748.5 1385.0,749.5 1387.0,750.6 1389.0,751.6 1391.0,752.7 1393.0,753.8 1395.0,754.8 1397.0,755.9 1399.0,756.9 1401.0,757.9 1403.0,758.9 1405.0,759.9 1407.0,760.9 1409.0,761.8 1411.0,762.8 1413.0,763.7 1415.0,764.5 1417.0,765.4 1419.0,766.2 1421.0,767.0 1423.0,767.7 1425.0,768.5 1427.0,769.2 1429.0,769.9 1431.0,770.5 1433.0,771.2 1435.0,771.9 1437.0,772.5 1439.0,773.1 1441.0,773.7 1443.0,774.3 1445.0,774.8 1447.0,775.3 1449.0,775.7 1451.0,776.2 1453.0,776.6 1455.0,777.0 1457.0,777.4 1459.0,777.7 1461.0,778.1 1463.0,778.4 1465.0,778.7 1467.0,778.9 1469.0,779.2 1471.0,779.4 1473.0,779.6 1475.0,779.8 1477.0,780.0 1479.0,780.2 1481.0,780.4 1483.0,780.6 1485.0,780.7 1487.0,780.8 1489.0,780.9 1491.0,781.0 1493.0,781.1 1495.0,781.2 1497.0,781.3 1499.0,781.4 1501.0,781.5 1503.0,781.6 1505.0,781.6 1507.0,781.7 1509.0,781.7 1511.0,781.8 1513.0,781.8 1515.0,781.8 1517.0,781.8 1519.0,781.8 1521.0,781.9 1523.0,781.9 1525.0,781.9 1527.0,781.9 1529.0,781.9 1531.0,781.9 1533.0,781.9 1535.0,781.9 1537.0,781.9 1539.0,782.0 1541.0,782.0 1543.0,782.0 1545.0,782.0 1547.0,782.0 1549.0,782.0 1551.0,782.0 1553.0,782.0 1555.0,782.0 1557.0,782.0 1559.0,782.0 1561.9,782.0"/>
<polyline class="f" points="881.0,611.5 883.0,611.5 885.0,611.6 887.0,611.6 889.0,611.7 891.0,611.7 893.0,611.8 895.0,611.8 897.0,611.9 899.0,612.0 901.0,612.0 903.0,612.1 905.0,612.2 907.0,612.3 909.0,612.3 911.0,612.4 913.0,612.5 915.0,612.6 917.0,612.7 919.0,612.8 921.0,612.9 923.0,612.9 925.0,613.0 927.0,613.1 929.0,613.2 931.0,613.3 933.0,613.4 935.0,613.5 937.0,613.6 939.0,613.7 941.0,613.8 943.0,614.0 945.0,614.1 947.0,614.2 949.0,614.3 951.0,614.4 953.0,614.6 955.0,614.7 957.0,614.8 959.0,615.0 961.0,615.1 963.0,615.3 965.0,615.5 967.0,615.6 969.0,615.8 971.0,615.9 973.0,616.1 975.0,616.3 977.0,616.5 979.0,616.6 981.0,616.8 983.0,617.0 985.0,617.2 987.0,617.3 989.0,617.5 991.0,617.7 993.0,617.9 995.0,618.1 997.0,618.2 999.0,618.4 1001.0,618.6 1003.0,618.8 1005.0,619.0 1007.0,619.2 1009.0,619.4 1011.0,619.6 1013.0,619.8 1015.0,620.0 1017.0,620.3 1019.0,620.5 1021.0,620.7 1023.0,620.9 1025.0,621.1 1027.0,621.4 1029.0,621.6 1031.0,621.8 1033.0,622.1 1035.0,622.3 1037.0,622.6 1039.0,622.8 1041.0,623.1 1043.0,623.3 1045.0,623.6 1047.0,623.9 1049.0,624.2 1051.0,624.4 1053.0,624.7 1055.0,625.0 1057.0,625.3 1059.0,625.6 1061.0,625.9 1063.0,626.2 1065.0,626.5 1067.0,626.8 1069.0,627.1 1071.0,627.5 1073.0,627.8 1075.0,628.1 1077.0,628.4 1079.0,628.8 1081.0,629.1 1083.0,629.4 1085.0,629.7 1087.0,630.1 1089.0,630.4 1091.0,630.7 1093.0,631.1 1095.0,631.4 1097.0,631.7 1099.0,632.1 1101.0,632.4 1103.0,632.8 1105.0,633.1 1107.0,633.5 1109.0,633.8 1111.0,634.2 1113.0,634.5 1115.0,634.9 1117.0,635.3 1119.0,635.6 1121.0,636.0 1123.0,636.4 1125.0,636.8 1127.0,637.2 1129.0,637.6 1131.0,638.0 1133.0,638.4 1135.0,638.8 1137.0,639.2 1139.0,639.6 1141.0,640.1 1143.0,640.5 1145.0,641.0 1147.0,641.4 1149.0,641.9 1151.0,642.4 1153.0,642.8 1155.0,643.3 1157.0,643.8 1159.0,644.3 1161.0,644.8 1163.0,645.3 1165.0,645.8 1167.0,646.3 1169.0,646.8 1171.0,647.3 1173.0,647.8 1175.0,648.3 1177.0,648.9 1179.0,649.4 1181.0,649.9 1183.0,650.4 1185.0,650.9 1187.0,651.4 1189.0,652.0 1191.0,652.5 1193.0,653.0 1195.0,653.5 1197.0,654.1 1199.0,654.6 1201.0,655.2 1203.0,655.7 1205.0,656.2 1207.0,656.8 1209.0,657.3 1211.0,657.9 1213.0,658.5 1215.0,659.0 1217.0,659.6 1219.0,660.2 1221.0,660.7 1223.0,661.3 1225.0,661.9 1227.0,662.4 1229.0,663.0 1231.0,663.6 1233.0,664.2 1235.0,664.7 1237.0,665.3 1239.0,665.9 1241.0,666.5 1243.0,667.1 1245.0,667.7 1247.0,668.3 1249.0,669.0 1251.0,669.6 1253.0,670.4 1255.0,671.1 1257.0,671.9 1259.0,672.7 1261.0,673.6 1263.0,674.4 1265.0,675.3 1267.0,676.3 1269.0,677.2 1271.0,678.2 1273.0,679.2 1275.0,680.3 1277.0,681.4 1279.0,682.5 1281.0,683.8 1283.0,685.0 1285.0,686.4 1287.0,687.7 1289.0,689.1 1291.0,690.5 1293.0,691.9 1295.0,693.3 1297.0,694.8 1299.0,696.2 1301.0,697.6 1303.0,699.1 1305.0,700.6 1307.0,702.0 1309.0,703.5 1311.0,705.0 1313.0,706.6 1315.0,708.1 1317.0,709.5 1319.0,711.0 1321.0,712.5 1323.0,714.0 1325.0,715.6 1327.0,717.1 1329.0,718.6 1331.0,720.1 1333.0,721.6 1335.0,723.0 1337.0,724.4 1339.0,725.7"/>
<polyline class="f" points="881.0,610.0 883.0,609.8 885.0,609.6 887.0,609.3 889.0,608.9 891.0,608.5 893.0,607.9 895.0,607.3 897.0,606.7 899.0,605.9 901.0,605.1 903.0,604.3 905.0,603.3 907.0,602.3 909.0,601.3 911.0,600.3 913.0,599.2 915.0,598.2 917.0,597.2 919.0,596.2 921.0,595.4 923.0,594.6 925.0,593.8 927.0,592.9 929.0,592.1 931.0,591.2 933.0,590.3 935.0,589.3 937.0,588.4 939.0,587.4 941.0,586.4 943.0,585.3 945.0,584.3 947.0,583.2 949.0,582.2 951.0,581.1 953.0,580.0 955.0,578.9 957.0,577.8 959.0,576.7 961.0,575.5 963.0,574.4 965.0,573.3 967.0,572.2 969.0,571.0 971.0,569.9 973.0,568.8 975.0,567.6 977.0,566.5 979.0,565.4 981.0,564.3 983.0,563.2 985.0,562.2 987.0,561.1 989.0,560.1 991.0,559.1 993.0,558.1 995.0,557.1 997.0,556.2 999.0,555.3 1001.0,554.4 1003.0,553.6 1005.0,552.8 1007.0,552.1 1009.0,551.4 1011.0,550.7 1013.0,550.1 1015.0,549.6 1017.0,549.1 1019.0,548.6 1021.0,548.2 1023.0,547.9 1025.0,547.6 1027.0,547.3 1029.0,547.2 1031.0,547.0 1033.0,547.0 1035.0,547.0 1037.0,547.1 1039.0,547.2 1041.0,547.4 1043.0,547.6 1045.0,548.0 1047.0,548.3 1049.0,548.8 1051.0,549.3 1053.0,549.8 1055.0,550.5 1057.0,551.1 1059.0,551.9 1061.0,552.6 1063.0,553.5 1065.0,554.4 1067.0,555.3 1069.0,556.3 1071.0,557.3 1073.0,558.4 1075.0,559.5 1077.0,560.7 1079.0,561.9 1081.0,563.1 1083.0,564.4 1085.0,565.7 1087.0,567.0 1089.0,568.4 1091.0,569.8 1093.0,571.3 1095.0,572.7 1097.0,574.2 1099.0,575.7 1101.0,577.2 1103.0,578.7 1105.0,580.3 1107.0,581.9 1109.0,583.5 1111.0,585.0 1113.0,586.6 1115.0,588.3 1117.0,589.9 1119.0,591.5 1121.0,593.1 1123.0,594.7 1125.0,596.4 1127.0,598.0 1129.0,599.6 1131.0,601.2 1133.0,602.8 1135.0,604.4 1137.0,606.0 1139.0,607.6 1141.0,609.2 1143.0,610.7 1145.0,612.3 1147.0,613.8 1149.0,615.4 1151.0,616.9 1153.0,618.4 1155.0,619.9 1157.0,621.3 1159.0,622.8 1161.0,624.2 1163.0,625.6 1165.0,627.0 1167.0,628.4 1169.0,629.7 1171.0,631.1 1173.0,632.4 1175.0,633.7 1177.0,634.9 1179.0,636.2 1181.0,637.4 1183.0,638.5 1185.0,639.7 1187.0,640.9 1189.0,642.0 1191.0,643.1 1193.0,644.2 1195.0,645.2 1197.0,646.3 1199.0,647.3 1201.0,648.3 1203.0,649.3 1205.0,650.3 1207.0,651.3 1209.0,652.2 1211.0,653.1 1213.0,654.0 1215.0,654.9 1217.0,655.8 1219.0,656.7 1221.0,657.6 1223.0,658.4 1225.0,659.2 1227.0,660.1 1229.0,660.9 1231.0,661.7 1233.0,662.5 1235.0,663.2 1237.0,664.0 1239.0,664.7 1241.0,665.5 1243.0,666.2 1245.0,667.0 1247.0,667.8 1249.0,668.5 1251.0,669.4 1253.0,670.2 1255.0,671.1 1257.0,671.9 1259.0,672.8 1261.0,673.8 1263.0,674.7 1265.0,675.7 1267.0,676.7 1269.0,677.7 1271.0,678.8 1273.0,679.8 1275.0,680.9 1277.0,682.1 1279.0,683.3 1281.0,684.6 1283.0,685.9 1285.0,687.2 1287.0,688.6 1289.0,690.0 1291.0,691.4 1293.0,692.8 1295.0,694.2 1297.0,695.6 1299.0,696.9 1301.0,698.3 1303.0,699.8 1305.0,701.2 1307.0,702.6 1309.0,704.1 1311.0,705.5 1313.0,707.0 1315.0,708.4 1317.0,709.9 1319.0,711.3 1321.0,712.8 1323.0,714.2 1325.0,715.7 1327.0,717.2 1329.0,718.7 1331.0,720.1 1333.0,721.6 1335.0,723.0 1337.0,724.4 1339.0,725.7 1341.0,727.0 1343.0,728.2 1345.0,729.4 1347.0,730.6 1349.0,731.8 1351.0,732.9 1353.0,734.0 1355.0,735.1 1357.0,736.1 1359.0,737.2 1361.0,738.2 1363.0,739.2 1365.0,740.2 1367.0,741.2 1369.0,742.1 1371.0,743.0 1373.0,743.9 1375.0,744.8 1377.0,745.7 1379.0,746.6 1381.0,747.5 1383.0,748.5 1385.0,749.5 1387.0,750.6 1389.0,751.6 1391.0,752.7 1393.0,753.8 1395.0,754.8 1397.0,755.9 1399.0,756.9 1401.0,757.9 1403.0,758.9 1405.0,759.9 1407.0,760.9 1409.0,761.8 1411.0,762.8 1413.0,763.7 1415.0,764.5 1417.0,765.4 1419.0,766.2 1421.0,767.0 1423.0,767.7 1425.0,768.5 1427.0,769.2 1429.0,769.9 1431.0,770.5 1433.0,771.2 1435.0,771.9 1437.0,772.5 1439.0,773.1 1441.0,773.7 1443.0,774.3 1445.0,774.8 1447.0,775.3 1449.0,775.7 1451.0,776.2 1453.0,776.6 1455.0,777.0 1457.0,777.4 1459.0,777.7 1461.0,778.1 1463.0,778.4 1465.0,778.7 1467.0,778.9 1469.0,779.2 1471.0,779.4 1473.0,779.6 1475.0,779.8 1477.0,780.0 1479.0,780.2 1481.0,780.4 1483.0,780.6 1485.0,780.7 1487.0,780.8 1489.0,780.9 1491.0,781.0 1493.0,781.1 1495.0,781.2 1497.0,781.3 1499.0,781.4 1501.0,781.5 1503.0,781.6 1505.0,781.6 1507.0,781.7 1509.0,781.7 1511.0,781.8 1513.0,781.8 1515.0,781.8 1517.0,781.8 1519.0,781.8 1521.0,781.9 1523.0,781.9 1525.0,781.9 1527.0,781.9 1529.0,781.9 1531.0,781.9 1533.0,781.9 1535.0,781.9 1537.0,781.9 1539.0,782.0 1541.0,782.0 1543.0,782.0 1545.0,782.0 1547.0,782.0 1549.0,782.0 1551.0,782.0 1553.0,782.0 1555.0,782.0 1557.0,782.0 1559.0,782.0 1561.9,782.0"/>
<polyline class="f" points="881.0,611.3 883.0,611.1 885.0,610.9 887.0,610.6 889.0,610.2 891.0,609.8 893.0,609.2 895.0,608.6 897.0,608.0 899.0,607.2 901.0,606.4 903.0,605.6 905.0,604.6 907.0,603.6 909.0,602.6 911.0,601.6 913.0,600.5 915.0,599.5 917.0,598.5 919.0,597.5 921.0,596.7 923.0,595.9 925.0,595.1 927.0,594.2 929.0,593.4 931.0,592.5 933.0,591.6 935.0,590.6 937.0,589.7 939.0,588.7 941.0,587.7 943.0,586.6 945.0,585.6 947.0,584.5 949.0,583.5 951.0,582.4 953.0,581.3 955.0,580.2 957.0,579.1 959.0,578.0 961.0,576.8 963.0,575.7 965.0,574.6 967.0,573.5 969.0,572.3 971.0,571.2 973.0,570.1 975.0,568.9 977.0,567.8 979.0,566.7 981.0,565.6 983.0,564.5 985.0,563.5 987.0,562.4 989.0,561.4 991.0,560.4 993.0,559.4 995.0,558.4 997.0,557.5 999.0,556.6"/>
<polyline class="f" points="881.0,612.8 883.0,612.8 885.0,612.9 887.0,612.9 889.0,612.9 891.0,613.0 893.0,613.0 895.0,613.1 897.0,613.1 899.0,613.1 901.0,613.2 903.0,613.3 905.0,613.3 907.0,613.4 909.0,613.4 911.0,613.5 913.0,613.5 915.0,613.6 917.0,613.7 919.0,613.7 921.0,613.8 923.0,613.8 925.0,613.9 927.0,613.9 929.0,614.0 931.0,614.0 933.0,614.0 935.0,614.1 937.0,614.1 939.0,614.1 941.0,614.1 943.0,614.1 945.0,614.2 947.0,614.2 949.0,614.2 951.0,614.2 953.0,614.1 955.0,614.1 957.0,614.1 959.0,614.1 961.0,614.0 963.0,614.0 965.0,613.9 967.0,613.8 969.0,613.7 971.0,613.6 973.0,613.5 975.0,613.4 977.0,613.2 979.0,613.0 981.0,612.8 983.0,612.6 985.0,612.3 987.0,612.0 989.0,611.7 991.0,611.4 993.0,611.0 995.0,610.6 997.0,610.1 999.0,609.7 1001.0,609.2 1003.0,608.6 1005.0,608.0 1007.0,607.4 1009.0,606.8 1011.0,606.1 1013.0,605.3 1015.0,604.5 1017.0,603.7 1019.0,602.8 1021.0,601.9 1023.0,600.9 1025.0,599.8 1027.0,598.7 1029.0,597.6 1031.0,596.4 1033.0,595.1 1035.0,593.8 1037.0,592.5 1039.0,591.0 1041.0,589.6 1043.0,588.0 1045.0,586.4 1047.0,584.8 1049.0,583.1 1051.0,581.3 1053.0,579.5 1055.0,577.6 1057.0,575.7 1059.0,573.7 1061.0,571.7 1063.0,569.6 1065.0,567.4 1067.0,565.2 1069.0,563.0 1071.0,560.7 1073.0,558.4 1075.0,556.0 1077.0,553.6 1079.0,551.1 1081.0,548.6 1083.0,546.1 1085.0,543.6 1087.0,541.0 1089.0,538.4 1091.0,535.8 1093.0,533.2 1095.0,530.6 1097.0,528.0 1099.0,525.4 1101.0,522.7 1103.0,520.1 1105.0,517.6 1107.0,515.0 1109.0,512.5 1111.0,510.0 1113.0,507.6 1115.0,505.2 1117.0,502.8 1119.0,500.5 1121.0,498.3 1123.0,496.1 1125.0,494.1 1127.0,492.1 1129.0,490.1 1131.0,488.3 1133.0,486.6 1135.0,484.9 1137.0,483.4 1139.0,482.0 1141.0,480.7 1143.0,479.5 1145.0,478.5 1147.0,477.5 1149.0,476.7 1151.0,476.0 1153.0,475.5 1155.0,475.1 1157.0,474.8 1159.0,474.7 1161.0,474.7 1163.0,474.9 1165.0,475.2 1167.0,475.6 1169.0,476.2 1171.0,476.9 1173.0,477.8 1175.0,478.7 1177.0,479.9 1179.0,481.1 1181.0,482.5 1183.0,484.1 1185.0,485.7 1187.0,487.5 1189.0,489.4 1191.0,491.5 1193.0,493.6 1195.0,495.9 1197.0,498.3 1199.0,500.8 1201.0,503.3 1203.0,506.0 1205.0,508.8 1207.0,511.7 1209.0,514.6 1211.0,517.6 1213.0,520.7 1215.0,523.9 1217.0,527.1 1219.0,530.4 1221.0,533.7 1223.0,537.1 1225.0,540.5 1227.0,544.0 1229.0,547.5 1231.0,551.0 1233.0,554.5 1235.0,558.0 1237.0,561.6 1239.0,565.1 1241.0,568.6 1243.0,572.2 1245.0,575.7 1247.0,579.3 1249.0,582.8 1251.0,586.4 1253.0,589.9 1255.0,593.5 1257.0,597.1 1259.0,600.6 1261.0,604.1 1263.0,607.7 1265.0,611.2 1267.0,614.7 1269.0,618.1 1271.0,621.6 1273.0,625.0 1275.0,628.4 1277.0,631.7 1279.0,635.1 1281.0,638.5 1283.0,641.9 1285.0,645.2 1287.0,648.6 1289.0,651.8 1291.0,655.1 1293.0,658.2 1295.0,661.3 1297.0,664.4 1299.0,667.4 1301.0,670.3 1303.0,673.2 1305.0,676.0 1307.0,678.8 1309.0,681.6 1311.0,684.3 1313.0,687.0 1315.0,689.6 1317.0,692.1 1319.0,694.6 1321.0,697.0 1323.0,699.4 1325.0,701.8 1327.0,704.1 1329.0,706.4 1331.0,708.7 1333.0,710.8 1335.0,713.0 1337.0,715.0 1339.0,717.0 1341.0,718.8 1343.0,720.6 1345.0,722.3 1347.0,724.0 1349.0,725.6 1351.0,727.2 1353.0,728.7 1355.0,730.2 1357.0,731.6 1359.0,733.0 1361.0,734.3 1363.0,735.6 1365.0,736.9 1367.0,738.1 1369.0,739.3 1371.0,740.4 1373.0,741.5 1375.0,742.5 1377.0,743.6 1379.0,744.7 1381.0,745.8 1383.0,746.9 1385.0,748.1 1387.0,749.3 1389.0,750.4 1391.0,751.6 1393.0,752.8 1395.0,753.9 1397.0,755.0 1399.0,756.1 1401.0,757.2 1403.0,758.3 1405.0,759.3 1407.0,760.4 1409.0,761.3 1411.0,762.3 1413.0,763.3 1415.0,764.2 1417.0,765.1 1419.0,765.9 1421.0,766.7 1423.0,767.5 1425.0,768.2 1427.0,769.0 1429.0,769.7 1431.0,770.4 1433.0,771.1 1435.0,771.8 1437.0,772.4 1439.0,773.0 1441.0,773.6 1443.0,774.2 1445.0,774.7 1447.0,775.2 1449.0,775.7 1451.0,776.1 1453.0,776.6 1455.0,777.0 1457.0,777.3 1459.0,777.7 1461.0,778.0 1463.0,778.4 1465.0,778.7 1467.0,778.9 1469.0,779.1 1471.0,779.4 1473.0,779.6 1475.0,779.8 1477.0,780.0 1479.0,780.2 1481.0,780.4 1483.0,780.5 1485.0,780.7 1487.0,780.8 1489.0,780.9 1491.0,781.0 1493.0,781.1 1495.0,781.2 1497.0,781.3 1499.0,781.4 1501.0,781.5 1503.0,781.6 1505.0,781.6 1507.0,781.7 1509.0,781.7 1511.0,781.8 1513.0,781.8 1515.0,781.8 1517.0,781.8 1519.0,781.8 1521.0,781.9 1523.0,781.9 1525.0,781.9 1527.0,781.9 1529.0,781.9 1531.0,781.9 1533.0,781.9 1535.0,781.9 1537.0,781.9 1539.0,782.0 1541.0,782.0 1543.0,782.0 1545.0,782.0 1547.0,782.0 1549.0,782.0 1551.0,782.0 1553.0,782.0 1555.0,782.0 1557.0,782.0 1559.0,782.0 1561.9,782.0"/>
<polyline class="f" points="881.0,612.8 883.0,612.8 885.0,612.9 887.0,612.9 889.0,613.0 891.0,613.0 893.0,613.1 895.0,613.1 897.0,613.2 899.0,613.3 901.0,613.3 903.0,613.4 905.0,613.5 907.0,613.6 909.0,613.6 911.0,613.7 913.0,613.8 915.0,613.9 917.0,614.0 919.0,614.1 921.0,614.2 923.0,614.2 925.0,614.3 927.0,614.4 929.0,614.5 931.0,614.6 933.0,614.7 935.0,614.8 937.0,614.9 939.0,615.0 941.0,615.1 943.0,615.3 945.0,615.4 947.0,615.5 949.0,615.6 951.0,615.7 953.0,615.9 955.0,616.0 957.0,616.1 959.0,616.3 961.0,616.4 963.0,616.6 965.0,616.8 967.0,616.9 969.0,617.1 971.0,617.2 973.0,617.4 975.0,617.6 977.0,617.8 979.0,617.9 981.0,618.1 983.0,618.3 985.0,618.5 987.0,618.6 989.0,618.8 991.0,619.0 993.0,619.2 995.0,619.4 997.0,619.5 999.0,619.7 1001.0,619.9 1003.0,620.1 1005.0,620.3 1007.0,620.5 1009.0,620.7 1011.0,620.9 1013.0,621.1 1015.0,621.3 1017.0,621.6 1019.0,621.8 1021.0,622.0 1023.0,622.2 1025.0,622.4 1027.0,622.7 1029.0,622.9 1031.0,623.1 1033.0,623.4 1035.0,623.6 1037.0,623.9 1039.0,624.1 1041.0,624.4 1043.0,624.6 1045.0,624.9 1047.0,625.2 1049.0,625.4 1051.0,625.7 1053.0,626.0 1055.0,626.3 1057.0,626.6 1059.0,626.9 1061.0,627.2 1063.0,627.5 1065.0,627.8 1067.0,628.1 1069.0,628.4 1071.0,628.7 1073.0,629.0 1075.0,629.3 1077.0,629.6 1079.0,629.9 1081.0,630.2 1083.0,630.6 1085.0,630.9 1087.0,631.2 1089.0,631.5 1091.0,631.8 1093.0,632.1 1095.0,632.4 1097.0,632.7 1099.0,633.0 1101.0,633.3 1103.0,633.5 1105.0,633.8 1107.0,634.1 1109.0,634.4 1111.0,634.6 1113.0,634.9 1115.0,635.2 1117.0,635.4 1119.0,635.6 1121.0,635.9 1123.0,636.1 1125.0,636.3 1127.0,636.5 1129.0,636.6 1131.0,636.8 1133.0,636.9 1135.0,637.1 1137.0,637.2 1139.0,637.2 1141.0,637.3 1143.0,637.3 1145.0,637.3 1147.0,637.2 1149.0,637.1 1151.0,637.0 1153.0,636.8 1155.0,636.6 1157.0,636.3 1159.0,636.0 1161.0,635.6 1163.0,635.1 1165.0,634.6 1167.0,634.0 1169.0,633.3 1171.0,632.5 1173.0,631.6 1175.0,630.6 1177.0,629.6 1179.0,628.4 1181.0,627.0 1183.0,625.6 1185.0,624.0 1187.0,622.3 1189.0,620.5 1191.0,618.5 1193.0,616.4 1195.0,614.1 1197.0,611.6 1199.0,609.0 1201.0,606.2 1203.0,603.3 1205.0,600.1 1207.0,596.8 1209.0,593.2 1211.0,589.5 1213.0,585.6 1215.0,581.4 1217.0,577.1 1219.0,572.5 1221.0,567.7 1223.0,562.7 1225.0,557.5 1227.0,552.0 1229.0,546.4 1231.0,540.5 1233.0,534.4 1235.0,528.1 1237.0,521.5 1239.0,514.8 1241.0,507.8 1243.0,500.7 1245.0,493.4 1247.0,485.9 1249.0,478.2 1251.0,470.5 1253.0,462.6 1255.0,454.5 1257.0,446.4 1259.0,438.2 1261.0,429.9 1263.0,421.5 1265.0,413.1 1267.0,404.7 1269.0,396.2 1271.0,387.8 1273.0,379.3 1275.0,370.9 1277.0,362.6 1279.0,354.4 1281.0,346.4 1283.0,338.4 1285.0,330.7 1287.0,323.0 1289.0,315.6 1291.0,308.4 1293.0,301.3 1295.0,294.5 1297.0,288.0 1299.0,281.6 1301.0,275.7 1303.0,270.0 1305.0,264.6 1307.0,259.7 1309.0,255.1 1311.0,250.9 1313.0,247.1 1315.0,243.7 1317.0,240.7 1319.0,238.1 1321.0,236.0 1323.0,234.5 1325.0,233.3 1327.0,232.7 1329.0,232.6 1331.0,232.9 1333.0,233.7 1335.0,235.0 1337.0,236.8 1339.0,239.0 1341.0,241.7 1343.0,244.9 1345.0,248.5 1347.0,252.6 1349.0,257.1 1351.0,262.1 1353.0,267.5 1355.0,273.4 1357.0,279.6 1359.0,286.3 1361.0,293.4 1363.0,300.8 1365.0,308.5 1367.0,316.6 1369.0,324.9 1371.0,333.6 1373.0,342.5 1375.0,351.6 1377.0,361.0 1379.0,370.6 1381.0,380.5 1383.0,390.6 1385.0,400.8 1387.0,411.2 1389.0,421.7 1391.0,432.3 1393.0,442.9 1395.0,453.5 1397.0,464.2 1399.0,474.8 1401.0,485.4 1403.0,496.0 1405.0,506.4 1407.0,516.7 1409.0,527.0 1411.0,537.1 1413.0,547.0 1415.0,556.8 1417.0,566.4 1419.0,575.7 1421.0,584.9 1423.0,593.9 1425.0,602.6 1427.0,611.1 1429.0,619.4 1431.0,627.5 1433.0,635.3 1435.0,642.9 1437.0,650.3 1439.0,657.4 1441.0,664.2 1443.0,670.8 1445.0,677.1 1447.0,683.2 1449.0,689.0 1451.0,694.6 1453.0,699.9 1455.0,705.0 1457.0,709.8 1459.0,714.4 1461.0,718.8 1463.0,723.0 1465.0,726.9 1467.0,730.6 1469.0,734.2 1471.0,737.5 1473.0,740.6 1475.0,743.6 1477.0,746.4 1479.0,749.1 1481.0,751.5 1483.0,753.9 1485.0,756.0 1487.0,758.1 1489.0,759.9 1491.0,761.7 1493.0,763.3 1495.0,764.9 1497.0,766.3 1499.0,767.6 1501.0,768.8 1503.0,770.0 1505.0,771.0 1507.0,772.0 1509.0,772.9 1511.0,773.7 1513.0,774.5 1515.0,775.1 1517.0,775.8 1519.0,776.3 1521.0,776.9 1523.0,777.3 1525.0,777.8 1527.0,778.2 1529.0,778.6 1531.0,778.9 1533.0,779.2 1535.0,779.5 1537.0,779.7 1539.0,780.0 1541.0,780.2 1543.0,780.4 1545.0,780.6 1547.0,780.9 1549.0,781.2 1551.0,781.4 1553.0,781.6 1555.0,781.8 1557.0,781.9 1559.0,782.0 1561.9,782.0"/>
<polyline class="f" points="881.0,612.8 883.0,612.8 885.0,612.9 887.0,612.9 889.0,613.0 891.0,613.0 893.0,613.1 895.0,613.1 897.0,613.2 899.0,613.3 901.0,613.3 903.0,613.4 905.0,613.5 907.0,613.6 909.0,613.6 911.0,613.7 913.0,613.8 915.0,613.9 917.0,614.0 919.0,614.1 921.0,614.2 923.0,614.2 925.0,614.3 927.0,614.4 929.0,614.5 931.0,614.6 933.0,614.7 935.0,614.8 937.0,614.9 939.0,615.0 941.0,615.1 943.0,615.3 945.0,615.4 947.0,615.5 949.0,615.6 951.0,615.7 953.0,615.9 955.0,616.0 957.0,616.1 959.0,616.3 961.0,616.4 963.0,616.6 965.0,616.8 967.0,616.9 969.0,617.1 971.0,617.2 973.0,617.4 975.0,617.6 977.0,617.8 979.0,617.9 981.0,618.1 983.0,618.3 985.0,618.5 987.0,618.6 989.0,618.8 991.0,619.0 993.0,619.2 995.0,619.4 997.0,619.5 999.0,619.7 1001.0,619.9 1003.0,620.1 1005.0,620.3 1007.0,620.5 1009.0,620.7 1011.0,620.9 1013.0,621.1 1015.0,621.3 1017.0,621.6 1019.0,621.8 1021.0,622.0 1023.0,622.2 1025.0,622.4 1027.0,622.7 1029.0,622.9 1031.0,623.1 1033.0,623.4 1035.0,623.6 1037.0,623.9 1039.0,624.1 1041.0,624.4 1043.0,624.6 1045.0,624.9 1047.0,625.2 1049.0,625.4 1051.0,625.7 1053.0,626.0 1055.0,626.3 1057.0,626.6 1059.0,626.9 1061.0,627.2 1063.0,627.5 1065.0,627.8 1067.0,628.1 1069.0,628.4 1071.0,628.7 1073.0,629.0 1075.0,629.3 1077.0,629.6 1079.0,629.9 1081.0,630.2 1083.0,630.6 1085.0,630.9 1087.0,631.2 1089.0,631.5 1091.0,631.8 1093.0,632.1 1095.0,632.4 1097.0,632.7 1099.0,633.0 1101.0,633.3 1103.0,633.5 1105.0,633.8 1107.0,634.1 1109.0,634.4 1111.0,634.6 1113.0,634.9 1115.0,635.2 1117.0,635.4 1119.0,635.6 1121.0,635.9 1123.0,636.1 1125.0,636.3 1127.0,636.5 1129.0,636.6 1131.0,636.8 1133.0,636.9 1135.0,637.1 1137.0,637.2 1139.0,637.2 1141.0,637.3 1143.0,637.3 1145.0,637.3 1147.0,637.2 1149.0,637.1 1151.0,637.0 1153.0,636.8 1155.0,636.6 1157.0,636.3 1159.0,636.0 1161.0,635.6 1163.0,635.1 1165.0,634.6 1167.0,634.0 1169.0,633.3 1171.0,632.5 1173.0,631.6 1175.0,630.6 1177.0,629.6 1179.0,628.4 1181.0,627.0 1183.0,625.6 1185.0,624.0 1187.0,622.3 1189.0,620.5 1191.0,618.5 1193.0,616.4 1195.0,614.1 1197.0,611.6 1199.0,609.0 1201.0,606.2 1203.0,603.3 1205.0,600.1 1207.0,596.8 1209.0,593.2 1211.0,589.5 1213.0,585.6 1215.0,581.4 1217.0,577.1 1219.0,572.5 1221.0,567.7 1223.0,562.7 1225.0,557.5 1227.0,552.0 1229.0,546.4 1231.0,540.5 1233.0,534.4 1235.0,528.1 1237.0,521.5 1239.0,514.8 1241.0,507.8 1243.0,500.7 1245.0,493.4 1247.0,485.9 1249.0,478.2 1251.0,470.5 1253.0,462.6 1255.0,454.5 1257.0,446.4 1259.0,438.2 1261.0,429.9 1263.0,421.5 1265.0,413.1 1267.0,404.7 1269.0,396.2 1271.0,387.8 1273.0,379.3 1275.0,370.9 1277.0,362.6 1279.0,354.4 1281.0,346.4 1283.0,338.4 1285.0,330.7 1287.0,323.0 1289.0,315.6 1291.0,308.4 1293.0,301.3 1295.0,294.5 1297.0,288.0 1299.0,281.6 1301.0,275.7 1303.0,270.0 1305.0,264.6 1307.0,259.7 1309.0,255.1 1311.0,250.9 1313.0,247.1 1315.0,243.7 1317.0,240.7 1319.0,238.1 1321.0,236.0 1323.0,234.5 1325.0,233.3 1327.0,232.7 1329.0,232.6 1331.0,232.9 1333.0,233.7 1335.0,235.0 1337.0,236.8 1339.0,238.9 1341.0,241.5 1343.0,244.5 1345.0,248.0 1347.0,251.9 1349.0,256.2 1351.0,260.9 1353.0,266.1 1355.0,271.6 1357.0,277.6 1359.0,283.9 1361.0,290.6 1363.0,297.6 1365.0,304.9 1367.0,312.6 1369.0,320.5 1371.0,328.7 1373.0,337.1 1375.0,345.8 1377.0,354.8 1379.0,363.9 1381.0,373.3 1383.0,383.0 1385.0,392.8 1387.0,402.7 1389.0,412.8 1391.0,423.0 1393.0,433.3 1395.0,443.5 1397.0,453.8 1399.0,464.2 1401.0,474.5 1403.0,484.7 1405.0,494.9 1407.0,505.0 1409.0,515.0 1411.0,524.9 1413.0,534.7 1415.0,544.4 1417.0,553.9 1419.0,563.2 1421.0,572.3 1423.0,581.3 1425.0,590.0 1427.0,598.6 1429.0,606.9 1431.0,615.1 1433.0,623.0 1435.0,630.8 1437.0,638.3 1439.0,645.5 1441.0,652.6 1443.0,659.3 1445.0,665.9 1447.0,672.2 1449.0,678.2 1451.0,684.1 1453.0,689.6 1455.0,695.0 1457.0,700.1 1459.0,705.0 1461.0,709.7 1463.0,714.2 1465.0,718.4 1467.0,722.4 1469.0,726.3 1471.0,729.9 1473.0,733.4 1475.0,736.6 1477.0,739.7 1479.0,742.7 1481.0,745.4 1483.0,748.0 1485.0,750.5 1487.0,752.8 1489.0,754.9 1491.0,757.0 1493.0,758.8 1495.0,760.6 1497.0,762.3 1499.0,763.8 1501.0,765.3 1503.0,766.6 1505.0,767.9 1507.0,769.1 1509.0,770.1 1511.0,771.1 1513.0,772.0 1515.0,772.9 1517.0,773.7 1519.0,774.4 1521.0,775.0 1523.0,775.7 1525.0,776.2 1527.0,776.7 1529.0,777.2 1531.0,777.7 1533.0,778.1 1535.0,778.4 1537.0,778.8 1539.0,779.1 1541.0,779.4 1543.0,779.6 1545.0,780.0 1547.0,780.4 1549.0,780.8 1551.0,781.1 1553.0,781.4 1555.0,781.7 1557.0,781.8 1559.0,781.9 1561.9,782.0"/>
<polyline class="f" points="881.0,612.8 883.0,612.8 885.0,612.9 887.0,612.9 889.0,613.0 891.0,613.0 893.0,613.1 895.0,613.1 897.0,613.2 899.0,613.3 901.0,613.3 903.0,613.4 905.0,613.5 907.0,613.6 909.0,613.6 911.0,613.7 913.0,613.8 915.0,613.9 917.0,614.0 919.0,614.1 921.0,614.2 923.0,614.2 925.0,614.3 927.0,614.4 929.0,614.5 931.0,614.6 933.0,614.7 935.0,614.8 937.0,614.9 939.0,615.0 941.0,615.1 943.0,615.3 945.0,615.4 947.0,615.5 949.0,615.6 951.0,615.7 953.0,615.9 955.0,616.0 957.0,616.1 959.0,616.3 961.0,616.4 963.0,616.6 965.0,616.8 967.0,616.9 969.0,617.1 971.0,617.2 973.0,617.4 975.0,617.6 977.0,617.8 979.0,617.9 981.0,618.1 983.0,618.3 985.0,618.5 987.0,618.6 989.0,618.8 991.0,619.0 993.0,619.2 995.0,619.4 997.0,619.5 999.0,619.7 1001.0,619.9 1003.0,620.1 1005.0,620.3 1007.0,620.5 1009.0,620.7 1011.0,620.9 1013.0,621.1 1015.0,621.3 1017.0,621.6 1019.0,621.8 1021.0,622.0 1023.0,622.2 1025.0,622.4 1027.0,622.7 1029.0,622.9 1031.0,623.1 1033.0,623.4 1035.0,623.6 1037.0,623.9 1039.0,624.1 1041.0,624.4 1043.0,624.6 1045.0,624.9 1047.0,625.2 1049.0,625.5 1051.0,625.7 1053.0,626.0 1055.0,626.3 1057.0,626.6 1059.0,626.9 1061.0,627.2 1063.0,627.5 1065.0,627.8 1067.0,628.1 1069.0,628.4 1071.0,628.8 1073.0,629.1 1075.0,629.4 1077.0,629.7 1079.0,630.1 1081.0,630.4 1083.0,630.7 1085.0,631.0 1087.0,631.4 1089.0,631.7 1091.0,632.0 1093.0,632.4 1095.0,632.7 1097.0,633.0 1099.0,633.4 1101.0,633.7 1103.0,634.1 1105.0,634.4 1107.0,634.8 1109.0,635.1 1111.0,635.5 1113.0,635.8 1115.0,636.2 1117.0,636.6 1119.0,636.9 1121.0,637.3 1123.0,637.7 1125.0,638.1 1127.0,638.5 1129.0,638.9 1131.0,639.3 1133.0,639.7 1135.0,640.1 1137.0,640.5 1139.0,640.9 1141.0,641.4 1143.0,641.8 1145.0,642.3 1147.0,642.7 1149.0,643.2 1151.0,643.7 1153.0,644.1 1155.0,644.6 1157.0,645.1 1159.0,645.6 1161.0,646.1 1163.0,646.6 1165.0,647.1 1167.0,647.6 1169.0,648.1 1171.0,648.6 1173.0,649.1 1175.0,649.6 1177.0,650.1 1179.0,650.6 1181.0,651.1 1183.0,651.6 1185.0,652.1 1187.0,652.6 1189.0,653.1 1191.0,653.6 1193.0,654.2 1195.0,654.7 1197.0,655.2 1199.0,655.7 1201.0,656.2 1203.0,656.7 1205.0,657.2 1207.0,657.7 1209.0,658.2 1211.0,658.7 1213.0,659.2 1215.0,659.7 1217.0,660.2 1219.0,660.6 1221.0,661.1 1223.0,661.6 1225.0,662.0 1227.0,662.4 1229.0,662.9 1231.0,663.3 1233.0,663.7 1235.0,664.0 1237.0,664.4 1239.0,664.7 1241.0,665.0 1243.0,665.3 1245.0,665.6 1247.0,665.9 1249.0,666.2 1251.0,666.5 1253.0,666.8 1255.0,667.0 1257.0,667.3 1259.0,667.6 1261.0,667.8 1263.0,668.0 1265.0,668.2 1267.0,668.4 1269.0,668.6 1271.0,668.8 1273.0,668.9 1275.0,669.0 1277.0,669.1 1279.0,669.1 1281.0,669.2 1283.0,669.3 1285.0,669.3 1287.0,669.3 1289.0,669.3 1291.0,669.2 1293.0,669.0 1295.0,668.7 1297.0,668.4 1299.0,668.0 1301.0,667.5 1303.0,667.0 1305.0,666.5 1307.0,665.9 1309.0,665.2 1311.0,664.4 1313.0,663.6 1315.0,662.8 1317.0,661.9 1319.0,660.9 1321.0,659.9 1323.0,658.8 1325.0,657.8 1327.0,656.7 1329.0,655.6 1331.0,654.4 1333.0,653.3 1335.0,652.1 1337.0,650.8 1339.0,649.5 1341.0,648.2 1343.0,646.8 1345.0,645.5 1347.0,644.2 1349.0,642.8 1351.0,641.6 1353.0,640.3 1355.0,639.1 1357.0,638.0 1359.0,636.9 1361.0,636.0 1363.0,635.1 1365.0,634.2 1367.0,633.5 1369.0,632.9 1371.0,632.3 1373.0,631.9 1375.0,631.6 1377.0,631.5 1379.0,631.6 1381.0,631.8 1383.0,632.2 1385.0,632.8 1387.0,633.7 1389.0,634.6 1391.0,635.8 1393.0,637.2 1395.0,638.7 1397.0,640.3 1399.0,642.2 1401.0,644.2 1403.0,646.4 1405.0,648.8 1407.0,651.2 1409.0,653.8 1411.0,656.5 1413.0,659.4 1415.0,662.3 1417.0,665.4 1419.0,668.5 1421.0,671.6 1423.0,674.9 1425.0,678.2 1427.0,681.5 1429.0,684.9 1431.0,688.3 1433.0,691.8 1435.0,695.3 1437.0,698.7 1439.0,702.2 1441.0,705.6 1443.0,709.0 1445.0,712.3 1447.0,715.6 1449.0,718.8 1451.0,721.9 1453.0,725.0 1455.0,728.0 1457.0,731.0 1459.0,733.8 1461.0,736.6 1463.0,739.3 1465.0,741.8 1467.0,744.3 1469.0,746.6 1471.0,748.9 1473.0,751.1 1475.0,753.2 1477.0,755.2 1479.0,757.1 1481.0,758.9 1483.0,760.6 1485.0,762.2 1487.0,763.7 1489.0,765.1 1491.0,766.4 1493.0,767.7 1495.0,768.9 1497.0,770.0 1499.0,771.0 1501.0,772.0 1503.0,772.9 1505.0,773.7 1507.0,774.5 1509.0,775.2 1511.0,775.8 1513.0,776.4 1515.0,776.9 1517.0,777.4 1519.0,777.9 1521.0,778.3 1523.0,778.6 1525.0,779.0 1527.0,779.3 1529.0,779.6 1531.0,779.8 1533.0,780.1 1535.0,780.3 1537.0,780.5 1539.0,780.7 1541.0,780.8 1543.0,781.0 1545.0,781.1 1547.0,781.3 1549.0,781.5 1551.0,781.6 1553.0,781.8 1555.0,781.9 1557.0,781.9 1559.0,782.0 1561.9,782.0"/>
<line x1="173.5" y1="34.9" x2="173.5" y2="1908.8" stroke="#000" stroke-width="3"/>
<line x1="173.5" y1="1889.8" x2="1595.9" y2="1889.8" stroke="#000" stroke-width="2.4"/>
<line x1="214.1" y1="1889.8" x2="214.1" y2="1903.7" stroke="#000" stroke-width="2.4"/>
<line x1="254.7" y1="1889.8" x2="254.7" y2="1903.7" stroke="#000" stroke-width="2.4"/>
<line x1="295.3" y1="1889.8" x2="295.3" y2="1903.7" stroke="#000" stroke-width="2.4"/>
<line x1="335.9" y1="1889.8" x2="335.9" y2="1903.7" stroke="#000" stroke-width="2.4"/>
<line x1="376.5" y1="1889.8" x2="376.5" y2="1908.8" stroke="#000" stroke-width="2.4"/>
<line x1="417.1" y1="1889.8" x2="417.1" y2="1903.7" stroke="#000" stroke-width="2.4"/>
<line x1="457.7" y1="1889.8" x2="457.7" y2="1903.7" stroke="#000" stroke-width="2.4"/>
<line x1="498.3" y1="1889.8" x2="498.3" y2="1903.7" stroke="#000" stroke-width="2.4"/>
<line x1="539.0" y1="1889.8" x2="539.0" y2="1903.7" stroke="#000" stroke-width="2.4"/>
<line x1="579.6" y1="1889.8" x2="579.6" y2="1908.8" stroke="#000" stroke-width="2.4"/>
<line x1="620.2" y1="1889.8" x2="620.2" y2="1903.7" stroke="#000" stroke-width="2.4"/>
<line x1="660.8" y1="1889.8" x2="660.8" y2="1903.7" stroke="#000" stroke-width="2.4"/>
<line x1="701.4" y1="1889.8" x2="701.4" y2="1903.7" stroke="#000" stroke-width="2.4"/>
<line x1="742.0" y1="1889.8" x2="742.0" y2="1903.7" stroke="#000" stroke-width="2.4"/>
<line x1="782.6" y1="1889.8" x2="782.6" y2="1908.8" stroke="#000" stroke-width="2.4"/>
<line x1="823.2" y1="1889.8" x2="823.2" y2="1903.7" stroke="#000" stroke-width="2.4"/>
<line x1="863.8" y1="1889.8" x2="863.8" y2="1903.7" stroke="#000" stroke-width="2.4"/>
<line x1="904.4" y1="1889.8" x2="904.4" y2="1903.7" stroke="#000" stroke-width="2.4"/>
<line x1="945.0" y1="1889.8" x2="945.0" y2="1903.7" stroke="#000" stroke-width="2.4"/>
<line x1="985.6" y1="1889.8" x2="985.6" y2="1908.8" stroke="#000" stroke-width="2.4"/>
<line x1="1026.2" y1="1889.8" x2="1026.2" y2="1903.7" stroke="#000" stroke-width="2.4"/>
<line x1="1066.8" y1="1889.8" x2="1066.8" y2="1903.7" stroke="#000" stroke-width="2.4"/>
<line x1="1107.4" y1="1889.8" x2="1107.4" y2="1903.7" stroke="#000" stroke-width="2.4"/>
<line x1="1148.0" y1="1889.8" x2="1148.0" y2="1903.7" stroke="#000" stroke-width="2.4"/>
<line x1="1188.6" y1="1889.8" x2="1188.6" y2="1908.8" stroke="#000" stroke-width="2.4"/>
<line x1="1229.2" y1="1889.8" x2="1229.2" y2="1903.7" stroke="#000" stroke-width="2.4"/>
<line x1="1269.9" y1="1889.8" x2="1269.9" y2="1903.7" stroke="#000" stroke-width="2.4"/>
<line x1="1310.5" y1="1889.8" x2="1310.5" y2="1903.7" stroke="#000" stroke-width="2.4"/>
<line x1="1351.1" y1="1889.8" x2="1351.1" y2="1903.7" stroke="#000" stroke-width="2.4"/>
<line x1="1391.7" y1="1889.8" x2="1391.7" y2="1908.8" stroke="#000" stroke-width="2.4"/>
<line x1="1432.3" y1="1889.8" x2="1432.3" y2="1903.7" stroke="#000" stroke-width="2.4"/>
<line x1="1472.9" y1="1889.8" x2="1472.9" y2="1903.7" stroke="#000" stroke-width="2.4"/>
<line x1="1513.5" y1="1889.8" x2="1513.5" y2="1903.7" stroke="#000" stroke-width="2.4"/>
<line x1="1554.1" y1="1889.8" x2="1554.1" y2="1903.7" stroke="#000" stroke-width="2.4"/>
<line x1="1594.7" y1="1889.8" x2="1594.7" y2="1908.8" stroke="#000" stroke-width="2.4"/>
<text transform="translate(122.25,1981.50) scale(1,1.046)" class="b" font-size="60.9">810</text>
<text transform="translate(324.50,1981.50) scale(1,1.046)" class="b" font-size="60.9">805</text>
<text transform="translate(528.80,1981.50) scale(1,1.046)" class="b" font-size="60.9">800</text>
<text transform="translate(730.50,1981.50) scale(1,1.046)" class="b" font-size="60.9">795</text>
<text transform="translate(933.85,1981.50) scale(1,1.046)" class="b" font-size="60.9">790</text>
<text transform="translate(1136.60,1981.50) scale(1,1.046)" class="b" font-size="60.9">785</text>
<text transform="translate(1339.60,1981.50) scale(1,1.046)" class="b" font-size="60.9">780</text>
<text transform="translate(1542.60,1981.50) scale(1,1.046)" class="b" font-size="60.9">775</text>
<text transform="translate(564.30,2099.20)" class="b" font-size="60.6" letter-spacing="0.033">Binding energy (eV)</text>
<text transform="translate(1554.00,739.60)" class="b" font-size="60.5">(D)</text>
<text transform="translate(1547.30,1210.30)" class="b" font-size="60.5">(C)</text>
<text transform="translate(1533.85,1463.50)" class="b" font-size="60.5">(B)</text>
<text transform="translate(1536.50,1797.60)" class="b" font-size="60.5">(A)</text>
<text transform="translate(1256.45,108.10) scale(1,1.035)" class="r" font-size="66.2" letter-spacing="0.175">Co 2p<tspan x="177.90" dy="15.07" font-size="40.4" letter-spacing="1.85">3/2</tspan></text>
<text transform="translate(1172.90,232.60) scale(1,1.045)" class="r" font-size="66.2" letter-spacing="0.2">Co<tspan x="84.20" dy="-18.76" font-size="44.7" letter-spacing="0.6">2+</tspan></text>
<text transform="translate(611.45,269.10) scale(1,1.035)" class="r" font-size="66.2" letter-spacing="0.175">Co 2p<tspan x="178.50" dy="14.40" font-size="40.4" letter-spacing="1.45">1/2</tspan></text>
<text transform="translate(913.25,391.20)" class="r" font-size="66.2" letter-spacing="-0.013">shake-ups</text>
<text transform="translate(1279.00,605.70) scale(1,1.045)" class="r" font-size="66.2" letter-spacing="-1.0">Co<tspan x="83.80" dy="-20.29" font-size="44.7" letter-spacing="1.2">3+</tspan></text>
<text transform="translate(78.30,1276.40) rotate(-90)" class="b" font-size="60.1" letter-spacing="0.033">Counts per second (a. u.)</text>
</svg>
</body>
</html>
